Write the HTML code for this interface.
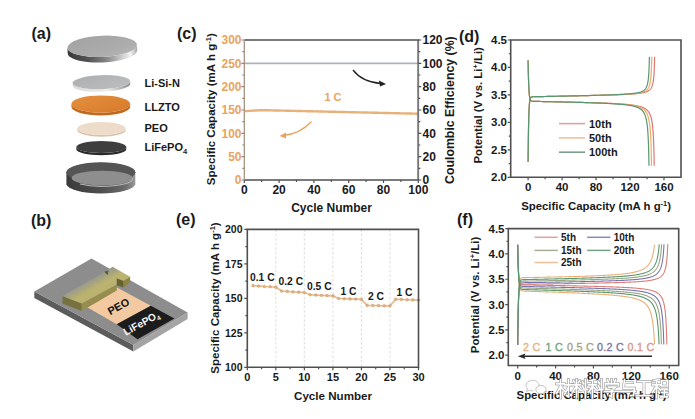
<!DOCTYPE html>
<html><head><meta charset="utf-8"><style>
html,body{margin:0;padding:0;background:#fff;width:695px;height:419px;overflow:hidden}
svg{display:block}
text{font-family:"Liberation Sans",sans-serif}
</style></head><body>
<svg width="695" height="419" viewBox="0 0 695 419">
<defs><linearGradient id="gCapSide" x1="0" x2="1" y1="0" y2="0"><stop offset="0" stop-color="#383838"/><stop offset="0.3" stop-color="#555"/><stop offset="0.55" stop-color="#858585"/><stop offset="0.78" stop-color="#cfcfcf"/><stop offset="0.9" stop-color="#f2f2f2"/><stop offset="1" stop-color="#a8a8a8"/></linearGradient><linearGradient id="gCapTop" x1="0" x2="1" y1="0" y2="1"><stop offset="0" stop-color="#a2a2a2"/><stop offset="0.6" stop-color="#ababab"/><stop offset="1" stop-color="#b6b6b6"/></linearGradient><linearGradient id="gLSN" x1="0" x2="1" y1="0" y2="1"><stop offset="0" stop-color="#acaeb0"/><stop offset="1" stop-color="#bcbec0"/></linearGradient><linearGradient id="gLSNside" x1="0" x2="1" y1="0" y2="0"><stop offset="0" stop-color="#d8d8d8"/><stop offset="0.6" stop-color="#eeeeee"/><stop offset="1" stop-color="#8a8a8a"/></linearGradient><linearGradient id="gLLZ" x1="0" x2="1" y1="0" y2="1"><stop offset="0" stop-color="#e5903f"/><stop offset="1" stop-color="#d67a2a"/></linearGradient><linearGradient id="gBotSide" x1="0" x2="1" y1="0" y2="0"><stop offset="0" stop-color="#3a3a3a"/><stop offset="0.5" stop-color="#4e4e4e"/><stop offset="0.85" stop-color="#6a6a6a"/><stop offset="1" stop-color="#9a9a9a"/></linearGradient><linearGradient id="gBarTop" gradientUnits="userSpaceOnUse" x1="84" y1="283.6" x2="88.5" y2="291.6"><stop offset="0" stop-color="#9a9a8c"/><stop offset="0.5" stop-color="#a8a57e"/><stop offset="1" stop-color="#bab26e"/></linearGradient></defs>
<rect width="695" height="419" fill="#fff"/>
<text x="31.5" y="39.2" font-size="16" font-weight="bold" text-anchor="start" fill="#1a1a1a" >(a)</text>
<text x="177" y="38.9" font-size="16" font-weight="bold" text-anchor="start" fill="#1a1a1a" >(c)</text>
<text x="459" y="41.5" font-size="16" font-weight="bold" text-anchor="start" fill="#1a1a1a" >(d)</text>
<text x="31" y="225.5" font-size="16" font-weight="bold" text-anchor="start" fill="#1a1a1a" >(b)</text>
<text x="176" y="224.5" font-size="16" font-weight="bold" text-anchor="start" fill="#1a1a1a" >(e)</text>
<text x="457" y="225" font-size="16" font-weight="bold" text-anchor="start" fill="#1a1a1a" >(f)</text>
<path d="M244.3,63.33 H418.3" stroke="#abb2b9" stroke-width="1.7" fill="none"/>
<path d="M244.3,111.26 L246.04,111.13 L247.78,110.99 L249.52,110.87 L251.26,110.75 L253,110.64 L254.74,110.53 L256.48,110.45 L258.22,110.37 L259.96,110.31 L261.7,110.27 L263.44,110.24 L265.18,110.23 L266.92,110.27 L268.66,110.31 L270.4,110.35 L272.14,110.39 L273.88,110.43 L275.62,110.47 L277.36,110.51 L279.1,110.55 L280.84,110.59 L282.58,110.63 L284.32,110.67 L286.06,110.71 L287.8,110.75 L289.54,110.79 L291.28,110.83 L293.02,110.87 L294.76,110.91 L296.5,110.95 L298.24,110.99 L299.98,111.03 L301.72,111.07 L303.46,111.11 L305.2,111.15 L306.94,111.19 L308.68,111.22 L310.42,111.26 L312.16,111.3 L313.9,111.34 L315.64,111.38 L317.38,111.42 L319.12,111.46 L320.86,111.5 L322.6,111.54 L324.34,111.58 L326.08,111.62 L327.82,111.66 L329.56,111.7 L331.3,111.74 L333.04,111.78 L334.78,111.82 L336.52,111.86 L338.26,111.9 L340,111.94 L341.74,111.98 L343.48,112.02 L345.22,112.06 L346.96,112.1 L348.7,112.14 L350.44,112.18 L352.18,112.22 L353.92,112.26 L355.66,112.3 L357.4,112.34 L359.14,112.38 L360.88,112.42 L362.62,112.45 L364.36,112.49 L366.1,112.53 L367.84,112.57 L369.58,112.61 L371.32,112.65 L373.06,112.69 L374.8,112.73 L376.54,112.77 L378.28,112.81 L380.02,112.85 L381.76,112.89 L383.5,112.93 L385.24,112.97 L386.98,113.01 L388.72,113.05 L390.46,113.09 L392.2,113.13 L393.94,113.17 L395.68,113.21 L397.42,113.25 L399.16,113.29 L400.9,113.33 L402.64,113.37 L404.38,113.41 L406.12,113.45 L407.86,113.49 L409.6,113.53 L411.34,113.57 L413.08,113.61 L414.82,113.64 L416.56,113.68 L418.3,113.72" stroke="#e8b07a" stroke-width="2.4" fill="none"/>
<path d="M244.3,40 H418.3 V180 H244.3" stroke="#505050" stroke-width="1.6" fill="none"/>
<path d="M244.3,40 V180" stroke="#9c8c78" stroke-width="1.2" fill="none"/>
<path d="M418.3,40.8 V179.2" stroke="#7a7a7a" stroke-width="1.4" fill="none"/>
<path d="M244.3,180 v3 M261.7,180 v2 M279.1,180 v3 M296.5,180 v2 M313.9,180 v3 M331.3,180 v2 M348.7,180 v3 M366.1,180 v2 M383.5,180 v3 M400.9,180 v2 M418.3,180 v3 M418.3,180 h3 M418.3,168.33 h2 M418.3,156.67 h3 M418.3,145 h2 M418.3,133.33 h3 M418.3,121.67 h2 M418.3,110 h3 M418.3,98.33 h2 M418.3,86.67 h3 M418.3,75 h2 M418.3,63.33 h3 M418.3,51.67 h2 M418.3,40 h3" stroke="#505050" stroke-width="1.2" fill="none"/>
<path d="M244.3,180 h-3 M244.3,168.33 h-2 M244.3,156.67 h-3 M244.3,145 h-2 M244.3,133.33 h-3 M244.3,121.67 h-2 M244.3,110 h-3 M244.3,98.33 h-2 M244.3,86.67 h-3 M244.3,75 h-2 M244.3,63.33 h-3 M244.3,51.67 h-2 M244.3,40 h-3" stroke="#9a8870" stroke-width="1.2" fill="none"/>
<text x="241.5" y="184.3" font-size="12" font-weight="bold" text-anchor="end" fill="#e9a45e" >0</text>
<text x="241.5" y="160.97" font-size="12" font-weight="bold" text-anchor="end" fill="#e9a45e" >50</text>
<text x="241.5" y="137.63" font-size="12" font-weight="bold" text-anchor="end" fill="#e9a45e" >100</text>
<text x="241.5" y="114.3" font-size="12" font-weight="bold" text-anchor="end" fill="#e9a45e" >150</text>
<text x="241.5" y="90.97" font-size="12" font-weight="bold" text-anchor="end" fill="#e9a45e" >200</text>
<text x="241.5" y="67.63" font-size="12" font-weight="bold" text-anchor="end" fill="#e9a45e" >250</text>
<text x="241.5" y="44.3" font-size="12" font-weight="bold" text-anchor="end" fill="#e9a45e" >300</text>
<text x="422.5" y="184.3" font-size="12" font-weight="bold" text-anchor="start" fill="#1a1a1a" >0</text>
<text x="422.5" y="160.97" font-size="12" font-weight="bold" text-anchor="start" fill="#1a1a1a" >20</text>
<text x="422.5" y="137.63" font-size="12" font-weight="bold" text-anchor="start" fill="#1a1a1a" >40</text>
<text x="422.5" y="114.3" font-size="12" font-weight="bold" text-anchor="start" fill="#1a1a1a" >60</text>
<text x="422.5" y="90.97" font-size="12" font-weight="bold" text-anchor="start" fill="#1a1a1a" >80</text>
<text x="422.5" y="67.63" font-size="12" font-weight="bold" text-anchor="start" fill="#1a1a1a" >100</text>
<text x="422.5" y="44.3" font-size="12" font-weight="bold" text-anchor="start" fill="#1a1a1a" >120</text>
<text x="244.3" y="194.3" font-size="12" font-weight="bold" text-anchor="middle" fill="#1a1a1a" >0</text>
<text x="279.1" y="194.3" font-size="12" font-weight="bold" text-anchor="middle" fill="#1a1a1a" >20</text>
<text x="313.9" y="194.3" font-size="12" font-weight="bold" text-anchor="middle" fill="#1a1a1a" >40</text>
<text x="348.7" y="194.3" font-size="12" font-weight="bold" text-anchor="middle" fill="#1a1a1a" >60</text>
<text x="383.5" y="194.3" font-size="12" font-weight="bold" text-anchor="middle" fill="#1a1a1a" >80</text>
<text x="418.3" y="194.3" font-size="12" font-weight="bold" text-anchor="middle" fill="#1a1a1a" >100</text>
<text x="331.5" y="212" font-size="12" font-weight="bold" text-anchor="middle" fill="#1a1a1a" >Cycle Number</text>
<text transform="translate(215,109.2) rotate(-90)" font-size="11.55" font-weight="bold" text-anchor="middle" fill="#1a1a1a">Specific Capacity (mA h g<tspan dy="-4" font-size="7.5">-1</tspan><tspan dy="4">)</tspan></text>
<text transform="translate(453.5,110.1) rotate(-90)" font-size="12.3" font-weight="bold" text-anchor="middle" fill="#1a1a1a">Coulombic Efficiency (%)</text>
<text x="333" y="101.3" font-size="11" font-weight="bold" text-anchor="middle" fill="#e9a45e" >1 C</text>
<path d="M353,70 Q362,82 381,83.5" stroke="#222" stroke-width="1.3" fill="none"/>
<path d="M386,84 L379,80.5 L380,86.5 Z" fill="#222"/>
<path d="M311.5,121.5 Q300,134 283,135.5" stroke="#e9a45e" stroke-width="1.3" fill="none"/>
<path d="M279.5,136 L286,132.5 L286,138.5 Z" fill="#e9a45e"/>
<path d="M528.1,161.92 L528.1,161.42 L528.12,159.93 L528.14,157.53 L528.17,154.31 L528.22,150.43 L528.27,146.05 L528.33,141.32 L528.4,136.43 L528.47,131.54 L528.56,126.79 L528.66,122.29 L528.76,118.13 L528.88,114.38 L529,111.07 L529.14,108.21 L529.28,105.78 L529.43,103.76 L529.59,102.12 L529.76,100.8 L529.94,99.76 L530.13,98.96 L530.32,98.35 L530.53,97.89 L530.74,97.56 L530.97,97.31 L531.2,97.14 L531.44,97.02 L531.69,96.93 L531.95,96.87 L532.21,96.83 L532.49,96.8 L532.77,96.78 L533.06,96.76 L533.37,96.75 L533.67,96.74 L533.99,96.73 L534.32,96.72 L534.65,96.72 L535,96.71 L535.35,96.7 L535.71,96.7 L536.08,96.69 L536.45,96.68 L536.83,96.67 L537.23,96.67 L537.63,96.66 L538.03,96.65 L538.45,96.64 L538.87,96.63 L539.3,96.63 L539.74,96.62 L540.19,96.61 L540.64,96.6 L541.1,96.59 L541.57,96.58 L542.04,96.57 L542.52,96.56 L543.01,96.55 L543.51,96.54 L544.01,96.53 L544.52,96.52 L545.04,96.51 L545.57,96.5 L546.1,96.49 L546.63,96.48 L547.18,96.47 L547.73,96.46 L548.28,96.45 L548.85,96.44 L549.42,96.43 L549.99,96.41 L550.57,96.4 L551.16,96.39 L551.75,96.38 L552.35,96.37 L552.96,96.36 L553.57,96.34 L554.18,96.33 L554.81,96.32 L555.43,96.31 L556.06,96.29 L556.7,96.28 L557.34,96.27 L557.99,96.25 L558.64,96.24 L559.3,96.23 L559.96,96.21 L560.63,96.2 L561.3,96.19 L561.97,96.17 L562.65,96.16 L563.33,96.14 L564.02,96.13 L564.71,96.11 L565.41,96.1 L566.11,96.08 L566.81,96.07 L567.52,96.06 L568.23,96.04 L568.94,96.03 L569.66,96.01 L570.38,95.99 L571.1,95.98 L571.82,95.96 L572.55,95.95 L573.28,95.93 L574.02,95.92 L574.75,95.9 L575.49,95.88 L576.23,95.87 L576.98,95.85 L577.72,95.83 L578.47,95.82 L579.22,95.8 L579.97,95.78 L580.73,95.77 L581.48,95.75 L582.24,95.73 L582.99,95.72 L583.75,95.7 L584.51,95.68 L585.27,95.66 L586.03,95.65 L586.79,95.63 L587.56,95.61 L588.32,95.59 L589.09,95.57 L589.85,95.55 L590.61,95.54 L591.38,95.52 L592.14,95.5 L592.91,95.48 L593.67,95.46 L594.44,95.44 L595.2,95.42 L595.96,95.4 L596.72,95.38 L597.49,95.36 L598.25,95.34 L599.01,95.32 L599.76,95.3 L600.52,95.28 L601.28,95.26 L602.03,95.24 L602.78,95.22 L603.54,95.2 L604.29,95.18 L605.03,95.16 L605.78,95.14 L606.52,95.11 L607.26,95.09 L608,95.07 L608.74,95.05 L609.47,95.02 L610.2,95 L610.93,94.98 L611.66,94.95 L612.38,94.93 L613.1,94.91 L613.82,94.88 L614.53,94.86 L615.24,94.83 L615.95,94.81 L616.65,94.78 L617.35,94.76 L618.04,94.73 L618.74,94.7 L619.42,94.68 L620.11,94.65 L620.79,94.62 L621.46,94.59 L622.13,94.56 L622.8,94.53 L623.46,94.5 L624.11,94.47 L624.77,94.44 L625.41,94.41 L626.06,94.38 L626.69,94.34 L627.32,94.31 L627.95,94.28 L628.57,94.24 L629.19,94.2 L629.8,94.17 L630.4,94.13 L631,94.09 L631.6,94.05 L632.18,94.01 L632.76,93.97 L633.34,93.92 L633.91,93.88 L634.47,93.83 L635.03,93.78 L635.58,93.74 L636.12,93.68 L636.66,93.63 L637.19,93.58 L637.72,93.52 L638.23,93.46 L638.74,93.4 L639.25,93.34 L639.74,93.27 L640.23,93.2 L640.72,93.13 L641.19,93.06 L641.66,92.98 L642.12,92.9 L642.57,92.81 L643.02,92.72 L643.46,92.63 L643.89,92.53 L644.31,92.43 L644.72,92.32 L645.13,92.2 L645.53,92.08 L645.92,91.95 L646.31,91.82 L646.68,91.67 L647.05,91.52 L647.41,91.36 L647.76,91.19 L648.1,91 L648.44,90.8 L648.76,90.59 L649.08,90.37 L649.39,90.13 L649.69,89.87 L649.99,89.59 L650.27,89.29 L650.54,88.96 L650.81,88.61 L651.07,88.23 L651.32,87.82 L651.56,87.37 L651.79,86.89 L652.01,86.36 L652.23,85.78 L652.43,85.14 L652.63,84.45 L652.82,83.7 L653,82.87 L653.17,81.96 L653.33,80.97 L653.48,79.88 L653.62,78.69 L653.75,77.39 L653.88,75.98 L653.99,74.46 L654.1,72.82 L654.2,71.08 L654.28,69.25 L654.36,67.35 L654.43,65.42 L654.49,63.53 L654.54,61.72 L654.58,60.07 L654.62,58.67 L654.64,57.61 L654.65,56.93 L654.66,56.71" stroke="#dc7a72" stroke-width="1.2" fill="none"/>
<path d="M528.1,60.32 L528.1,60.6 L528.12,61.41 L528.14,62.74 L528.17,64.52 L528.22,66.7 L528.27,69.18 L528.33,71.88 L528.39,74.71 L528.47,77.6 L528.56,80.45 L528.66,83.2 L528.76,85.8 L528.88,88.2 L529,90.38 L529.13,92.31 L529.27,94 L529.43,95.45 L529.59,96.67 L529.75,97.68 L529.93,98.51 L530.12,99.18 L530.32,99.71 L530.52,100.12 L530.73,100.44 L530.96,100.68 L531.19,100.86 L531.43,100.99 L531.68,101.09 L531.93,101.16 L532.2,101.22 L532.47,101.25 L532.76,101.28 L533.05,101.3 L533.35,101.32 L533.66,101.33 L533.97,101.34 L534.3,101.35 L534.63,101.36 L534.97,101.37 L535.32,101.37 L535.68,101.38 L536.05,101.39 L536.42,101.4 L536.81,101.4 L537.2,101.41 L537.59,101.42 L538,101.43 L538.41,101.44 L538.83,101.44 L539.26,101.45 L539.7,101.46 L540.14,101.47 L540.6,101.48 L541.06,101.49 L541.52,101.5 L542,101.51 L542.48,101.52 L542.96,101.53 L543.46,101.54 L543.96,101.55 L544.47,101.56 L544.98,101.57 L545.51,101.58 L546.04,101.59 L546.57,101.6 L547.11,101.61 L547.66,101.62 L548.22,101.63 L548.78,101.65 L549.35,101.66 L549.92,101.67 L550.5,101.68 L551.08,101.69 L551.68,101.71 L552.27,101.72 L552.87,101.73 L553.48,101.74 L554.1,101.76 L554.72,101.77 L555.34,101.78 L555.97,101.8 L556.61,101.81 L557.25,101.82 L557.89,101.84 L558.54,101.85 L559.19,101.87 L559.85,101.88 L560.52,101.9 L561.19,101.91 L561.86,101.93 L562.53,101.94 L563.22,101.96 L563.9,101.97 L564.59,101.99 L565.28,102 L565.98,102.02 L566.68,102.04 L567.38,102.05 L568.09,102.07 L568.8,102.08 L569.52,102.1 L570.23,102.12 L570.95,102.14 L571.68,102.15 L572.4,102.17 L573.13,102.19 L573.86,102.21 L574.6,102.22 L575.33,102.24 L576.07,102.26 L576.81,102.28 L577.56,102.3 L578.3,102.32 L579.05,102.34 L579.8,102.36 L580.55,102.38 L581.3,102.4 L582.05,102.42 L582.81,102.44 L583.56,102.46 L584.32,102.48 L585.08,102.5 L585.84,102.52 L586.6,102.54 L587.36,102.56 L588.12,102.58 L588.88,102.61 L589.64,102.63 L590.4,102.65 L591.17,102.67 L591.93,102.7 L592.69,102.72 L593.45,102.75 L594.21,102.77 L594.97,102.79 L595.73,102.82 L596.49,102.84 L597.25,102.87 L598.01,102.89 L598.77,102.92 L599.52,102.95 L600.28,102.97 L601.03,103 L601.78,103.03 L602.53,103.06 L603.28,103.08 L604.03,103.11 L604.77,103.14 L605.52,103.17 L606.26,103.2 L607,103.23 L607.73,103.26 L608.47,103.3 L609.2,103.33 L609.93,103.36 L610.65,103.39 L611.38,103.43 L612.1,103.46 L612.82,103.5 L613.53,103.53 L614.24,103.57 L614.95,103.61 L615.65,103.64 L616.35,103.68 L617.05,103.72 L617.74,103.76 L618.43,103.8 L619.12,103.85 L619.8,103.89 L620.47,103.93 L621.15,103.98 L621.82,104.03 L622.48,104.07 L623.14,104.12 L623.79,104.17 L624.44,104.22 L625.09,104.28 L625.73,104.33 L626.36,104.39 L626.99,104.44 L627.62,104.5 L628.24,104.56 L628.85,104.63 L629.46,104.69 L630.06,104.76 L630.66,104.83 L631.25,104.9 L631.83,104.97 L632.41,105.05 L632.99,105.12 L633.55,105.21 L634.12,105.29 L634.67,105.38 L635.22,105.47 L635.76,105.56 L636.3,105.66 L636.83,105.76 L637.35,105.87 L637.86,105.98 L638.37,106.09 L638.87,106.22 L639.37,106.34 L639.86,106.47 L640.34,106.61 L640.81,106.75 L641.28,106.9 L641.74,107.06 L642.19,107.23 L642.63,107.4 L643.07,107.58 L643.5,107.78 L643.92,107.98 L644.33,108.19 L644.74,108.42 L645.14,108.66 L645.53,108.91 L645.91,109.18 L646.28,109.46 L646.65,109.77 L647.01,110.09 L647.36,110.43 L647.7,110.79 L648.03,111.18 L648.36,111.59 L648.68,112.03 L648.98,112.5 L649.28,113.01 L649.58,113.55 L649.86,114.14 L650.13,114.77 L650.4,115.44 L650.66,116.17 L650.91,116.96 L651.15,117.81 L651.38,118.73 L651.6,119.72 L651.81,120.8 L652.02,121.97 L652.21,123.23 L652.4,124.6 L652.58,126.09 L652.75,127.7 L652.91,129.44 L653.06,131.33 L653.2,133.35 L653.33,135.53 L653.46,137.85 L653.57,140.31 L653.68,142.91 L653.77,145.61 L653.86,148.39 L653.94,151.2 L654.01,153.98 L654.07,156.67 L654.12,159.17 L654.16,161.4 L654.19,163.26 L654.21,164.66 L654.23,165.53 L654.23,165.83" stroke="#dc7a72" stroke-width="1.2" fill="none"/>
<path d="M528.1,161.92 L528.1,161.43 L528.12,159.98 L528.14,157.62 L528.17,154.48 L528.21,150.67 L528.26,146.36 L528.32,141.71 L528.39,136.89 L528.47,132.04 L528.55,127.32 L528.65,122.84 L528.75,118.68 L528.86,114.91 L528.98,111.57 L529.11,108.67 L529.25,106.2 L529.4,104.13 L529.56,102.43 L529.72,101.06 L529.9,99.98 L530.08,99.13 L530.27,98.49 L530.47,98 L530.68,97.64 L530.9,97.37 L531.13,97.18 L531.36,97.05 L531.61,96.95 L531.86,96.89 L532.12,96.84 L532.39,96.81 L532.66,96.78 L532.95,96.77 L533.25,96.75 L533.55,96.74 L533.86,96.73 L534.18,96.72 L534.5,96.72 L534.84,96.71 L535.18,96.7 L535.53,96.7 L535.89,96.69 L536.26,96.68 L536.64,96.67 L537.02,96.67 L537.41,96.66 L537.81,96.65 L538.21,96.64 L538.63,96.63 L539.05,96.63 L539.47,96.62 L539.91,96.61 L540.35,96.6 L540.8,96.59 L541.26,96.58 L541.72,96.57 L542.2,96.56 L542.67,96.55 L543.16,96.54 L543.65,96.53 L544.15,96.52 L544.66,96.51 L545.17,96.5 L545.69,96.49 L546.21,96.48 L546.74,96.47 L547.28,96.46 L547.82,96.45 L548.37,96.44 L548.93,96.43 L549.49,96.41 L550.06,96.4 L550.63,96.39 L551.21,96.38 L551.8,96.37 L552.39,96.35 L552.99,96.34 L553.59,96.33 L554.2,96.32 L554.81,96.3 L555.43,96.29 L556.05,96.28 L556.68,96.26 L557.31,96.25 L557.95,96.24 L558.59,96.22 L559.23,96.21 L559.88,96.2 L560.54,96.18 L561.2,96.17 L561.86,96.16 L562.53,96.14 L563.2,96.13 L563.88,96.11 L564.56,96.1 L565.24,96.08 L565.93,96.07 L566.62,96.05 L567.31,96.04 L568.01,96.02 L568.71,96.01 L569.41,95.99 L570.12,95.98 L570.83,95.96 L571.54,95.94 L572.25,95.93 L572.97,95.91 L573.69,95.9 L574.41,95.88 L575.14,95.86 L575.86,95.85 L576.59,95.83 L577.32,95.81 L578.05,95.8 L578.79,95.78 L579.52,95.76 L580.26,95.75 L581,95.73 L581.74,95.71 L582.48,95.69 L583.22,95.68 L583.97,95.66 L584.71,95.64 L585.46,95.62 L586.2,95.6 L586.95,95.59 L587.69,95.57 L588.44,95.55 L589.19,95.53 L589.93,95.51 L590.68,95.49 L591.43,95.47 L592.18,95.46 L592.92,95.44 L593.67,95.42 L594.41,95.4 L595.16,95.38 L595.9,95.36 L596.65,95.34 L597.39,95.32 L598.13,95.3 L598.87,95.28 L599.61,95.26 L600.34,95.23 L601.08,95.21 L601.81,95.19 L602.55,95.17 L603.28,95.15 L604.01,95.13 L604.73,95.11 L605.46,95.08 L606.18,95.06 L606.9,95.04 L607.62,95.01 L608.33,94.99 L609.04,94.97 L609.75,94.94 L610.46,94.92 L611.16,94.9 L611.86,94.87 L612.56,94.85 L613.25,94.82 L613.94,94.8 L614.63,94.77 L615.31,94.74 L615.99,94.72 L616.67,94.69 L617.34,94.66 L618.01,94.63 L618.67,94.61 L619.33,94.58 L619.99,94.55 L620.64,94.52 L621.28,94.49 L621.92,94.46 L622.56,94.43 L623.19,94.39 L623.82,94.36 L624.44,94.33 L625.06,94.29 L625.67,94.26 L626.28,94.22 L626.88,94.18 L627.48,94.15 L628.07,94.11 L628.65,94.07 L629.23,94.03 L629.81,93.99 L630.38,93.94 L630.94,93.9 L631.49,93.85 L632.04,93.81 L632.59,93.76 L633.13,93.71 L633.66,93.66 L634.18,93.6 L634.7,93.55 L635.21,93.49 L635.72,93.43 L636.22,93.37 L636.71,93.3 L637.2,93.24 L637.67,93.17 L638.15,93.09 L638.61,93.02 L639.07,92.94 L639.52,92.86 L639.96,92.77 L640.4,92.68 L640.82,92.58 L641.24,92.48 L641.66,92.38 L642.06,92.27 L642.46,92.15 L642.85,92.02 L643.23,91.89 L643.61,91.76 L643.98,91.61 L644.34,91.45 L644.69,91.29 L645.03,91.11 L645.36,90.92 L645.69,90.72 L646.01,90.51 L646.32,90.28 L646.62,90.03 L646.92,89.77 L647.2,89.49 L647.48,89.18 L647.75,88.85 L648.01,88.49 L648.26,88.11 L648.51,87.69 L648.74,87.24 L648.97,86.74 L649.19,86.21 L649.4,85.62 L649.6,84.98 L649.79,84.28 L649.97,83.52 L650.15,82.68 L650.31,81.77 L650.47,80.77 L650.62,79.67 L650.76,78.48 L650.89,77.18 L651.01,75.77 L651.12,74.25 L651.22,72.61 L651.32,70.88 L651.4,69.06 L651.48,67.18 L651.55,65.28 L651.61,63.4 L651.66,61.62 L651.7,60.01 L651.73,58.64 L651.75,57.59 L651.76,56.93 L651.77,56.71" stroke="#ebac6c" stroke-width="1.2" fill="none"/>
<path d="M528.1,60.32 L528.1,60.59 L528.12,61.39 L528.14,62.69 L528.17,64.44 L528.21,66.57 L528.26,69.01 L528.32,71.67 L528.39,74.46 L528.46,77.31 L528.55,80.14 L528.64,82.88 L528.75,85.47 L528.86,87.87 L528.98,90.06 L529.11,92.01 L529.25,93.72 L529.4,95.2 L529.55,96.45 L529.72,97.49 L529.89,98.35 L530.08,99.04 L530.27,99.59 L530.47,100.03 L530.68,100.36 L530.89,100.62 L531.12,100.81 L531.35,100.96 L531.6,101.07 L531.85,101.15 L532.11,101.2 L532.38,101.24 L532.66,101.28 L532.94,101.3 L533.23,101.32 L533.54,101.33 L533.85,101.34 L534.16,101.35 L534.49,101.36 L534.83,101.37 L535.17,101.37 L535.52,101.38 L535.88,101.39 L536.24,101.4 L536.62,101.4 L537,101.41 L537.39,101.42 L537.79,101.43 L538.19,101.44 L538.6,101.45 L539.02,101.45 L539.45,101.46 L539.89,101.47 L540.33,101.48 L540.78,101.49 L541.23,101.5 L541.7,101.51 L542.17,101.52 L542.64,101.53 L543.13,101.54 L543.62,101.55 L544.12,101.56 L544.62,101.57 L545.13,101.58 L545.65,101.59 L546.17,101.6 L546.7,101.61 L547.24,101.62 L547.78,101.64 L548.33,101.65 L548.89,101.66 L549.45,101.67 L550.02,101.68 L550.59,101.7 L551.17,101.71 L551.75,101.72 L552.34,101.73 L552.94,101.75 L553.54,101.76 L554.14,101.77 L554.75,101.79 L555.37,101.8 L555.99,101.81 L556.62,101.83 L557.25,101.84 L557.88,101.86 L558.52,101.87 L559.17,101.88 L559.82,101.9 L560.47,101.91 L561.13,101.93 L561.79,101.94 L562.46,101.96 L563.13,101.98 L563.8,101.99 L564.48,102.01 L565.16,102.02 L565.85,102.04 L566.54,102.06 L567.23,102.07 L567.93,102.09 L568.62,102.11 L569.33,102.12 L570.03,102.14 L570.74,102.16 L571.45,102.18 L572.16,102.19 L572.88,102.21 L573.6,102.23 L574.32,102.25 L575.04,102.27 L575.76,102.29 L576.49,102.31 L577.22,102.32 L577.95,102.34 L578.68,102.36 L579.42,102.38 L580.15,102.4 L580.89,102.42 L581.63,102.44 L582.37,102.46 L583.11,102.49 L583.85,102.51 L584.59,102.53 L585.34,102.55 L586.08,102.57 L586.83,102.59 L587.57,102.62 L588.32,102.64 L589.06,102.66 L589.81,102.69 L590.55,102.71 L591.3,102.73 L592.04,102.76 L592.79,102.78 L593.53,102.81 L594.28,102.83 L595.02,102.86 L595.76,102.88 L596.5,102.91 L597.25,102.93 L597.98,102.96 L598.72,102.99 L599.46,103.01 L600.2,103.04 L600.93,103.07 L601.66,103.1 L602.39,103.13 L603.12,103.16 L603.85,103.19 L604.57,103.22 L605.3,103.25 L606.02,103.28 L606.74,103.31 L607.45,103.35 L608.17,103.38 L608.88,103.41 L609.58,103.45 L610.29,103.48 L610.99,103.52 L611.69,103.55 L612.38,103.59 L613.08,103.63 L613.77,103.67 L614.45,103.71 L615.13,103.75 L615.81,103.79 L616.48,103.83 L617.16,103.87 L617.82,103.92 L618.48,103.96 L619.14,104.01 L619.8,104.05 L620.45,104.1 L621.09,104.15 L621.73,104.2 L622.37,104.26 L623,104.31 L623.62,104.36 L624.24,104.42 L624.86,104.48 L625.47,104.54 L626.08,104.6 L626.68,104.67 L627.27,104.73 L627.86,104.8 L628.45,104.87 L629.03,104.94 L629.6,105.02 L630.17,105.09 L630.73,105.17 L631.28,105.26 L631.83,105.34 L632.37,105.43 L632.91,105.52 L633.44,105.62 L633.96,105.72 L634.48,105.82 L634.99,105.93 L635.5,106.04 L636,106.16 L636.49,106.28 L636.97,106.41 L637.45,106.54 L637.92,106.68 L638.38,106.83 L638.84,106.98 L639.29,107.14 L639.73,107.31 L640.16,107.49 L640.59,107.68 L641.01,107.87 L641.42,108.08 L641.83,108.3 L642.23,108.53 L642.61,108.77 L643,109.03 L643.37,109.3 L643.74,109.59 L644.1,109.89 L644.45,110.22 L644.79,110.57 L645.12,110.94 L645.45,111.33 L645.77,111.75 L646.08,112.2 L646.38,112.68 L646.67,113.19 L646.96,113.74 L647.24,114.33 L647.5,114.97 L647.76,115.66 L648.02,116.39 L648.26,117.19 L648.49,118.05 L648.72,118.98 L648.94,119.98 L649.15,121.07 L649.35,122.25 L649.54,123.52 L649.72,124.91 L649.9,126.4 L650.06,128.02 L650.22,129.77 L650.36,131.66 L650.5,133.69 L650.63,135.86 L650.75,138.18 L650.87,140.63 L650.97,143.21 L651.06,145.9 L651.15,148.65 L651.23,151.43 L651.29,154.18 L651.35,156.83 L651.4,159.29 L651.44,161.48 L651.47,163.3 L651.5,164.68 L651.51,165.53 L651.51,165.82" stroke="#ebac6c" stroke-width="1.2" fill="none"/>
<path d="M528.1,161.92 L528.1,161.44 L528.12,160.01 L528.14,157.7 L528.17,154.61 L528.21,150.87 L528.26,146.62 L528.32,142.03 L528.38,137.26 L528.46,132.46 L528.54,127.77 L528.63,123.3 L528.74,119.14 L528.85,115.37 L528.97,112 L529.09,109.06 L529.23,106.55 L529.37,104.44 L529.53,102.7 L529.69,101.29 L529.86,100.17 L530.04,99.29 L530.23,98.61 L530.43,98.09 L530.63,97.71 L530.85,97.43 L531.07,97.22 L531.3,97.08 L531.54,96.97 L531.79,96.9 L532.04,96.85 L532.3,96.81 L532.58,96.79 L532.86,96.77 L533.15,96.75 L533.44,96.74 L533.75,96.73 L534.06,96.72 L534.38,96.72 L534.71,96.71 L535.05,96.7 L535.39,96.7 L535.74,96.69 L536.1,96.68 L536.47,96.67 L536.85,96.67 L537.23,96.66 L537.62,96.65 L538.02,96.64 L538.42,96.63 L538.84,96.62 L539.26,96.62 L539.68,96.61 L540.12,96.6 L540.56,96.59 L541.01,96.58 L541.46,96.57 L541.92,96.56 L542.39,96.55 L542.87,96.54 L543.35,96.53 L543.84,96.52 L544.34,96.51 L544.84,96.5 L545.35,96.49 L545.86,96.48 L546.38,96.47 L546.91,96.46 L547.44,96.45 L547.98,96.44 L548.53,96.42 L549.08,96.41 L549.64,96.4 L550.2,96.39 L550.77,96.38 L551.34,96.36 L551.92,96.35 L552.51,96.34 L553.1,96.33 L553.69,96.32 L554.29,96.3 L554.9,96.29 L555.51,96.28 L556.13,96.26 L556.75,96.25 L557.37,96.24 L558,96.22 L558.63,96.21 L559.27,96.2 L559.92,96.18 L560.56,96.17 L561.21,96.15 L561.87,96.14 L562.53,96.12 L563.19,96.11 L563.86,96.1 L564.53,96.08 L565.2,96.07 L565.88,96.05 L566.56,96.04 L567.24,96.02 L567.93,96.01 L568.62,95.99 L569.31,95.97 L570,95.96 L570.7,95.94 L571.4,95.93 L572.11,95.91 L572.81,95.89 L573.52,95.88 L574.23,95.86 L574.94,95.84 L575.66,95.83 L576.38,95.81 L577.09,95.79 L577.81,95.78 L578.54,95.76 L579.26,95.74 L579.98,95.73 L580.71,95.71 L581.44,95.69 L582.16,95.67 L582.89,95.66 L583.62,95.64 L584.35,95.62 L585.08,95.6 L585.82,95.58 L586.55,95.56 L587.28,95.55 L588.01,95.53 L588.75,95.51 L589.48,95.49 L590.21,95.47 L590.94,95.45 L591.68,95.43 L592.41,95.41 L593.14,95.39 L593.87,95.37 L594.6,95.35 L595.33,95.33 L596.06,95.31 L596.78,95.29 L597.51,95.27 L598.23,95.25 L598.96,95.23 L599.68,95.21 L600.4,95.19 L601.12,95.16 L601.83,95.14 L602.55,95.12 L603.26,95.1 L603.97,95.08 L604.68,95.05 L605.38,95.03 L606.09,95.01 L606.79,94.98 L607.49,94.96 L608.18,94.94 L608.87,94.91 L609.56,94.89 L610.25,94.86 L610.93,94.84 L611.61,94.81 L612.29,94.79 L612.96,94.76 L613.64,94.73 L614.3,94.71 L614.96,94.68 L615.62,94.65 L616.28,94.62 L616.93,94.59 L617.58,94.57 L618.22,94.54 L618.86,94.51 L619.49,94.47 L620.12,94.44 L620.74,94.41 L621.36,94.38 L621.98,94.35 L622.59,94.31 L623.2,94.28 L623.8,94.24 L624.39,94.2 L624.98,94.17 L625.57,94.13 L626.15,94.09 L626.72,94.05 L627.29,94.01 L627.85,93.97 L628.41,93.92 L628.96,93.88 L629.51,93.83 L630.05,93.78 L630.58,93.73 L631.11,93.68 L631.63,93.63 L632.14,93.58 L632.65,93.52 L633.15,93.46 L633.65,93.4 L634.14,93.34 L634.62,93.27 L635.1,93.21 L635.57,93.13 L636.03,93.06 L636.48,92.98 L636.93,92.9 L637.37,92.82 L637.81,92.73 L638.24,92.64 L638.66,92.54 L639.07,92.44 L639.47,92.33 L639.87,92.22 L640.26,92.1 L640.64,91.97 L641.02,91.84 L641.39,91.7 L641.75,91.55 L642.1,91.39 L642.44,91.23 L642.78,91.05 L643.11,90.86 L643.43,90.65 L643.74,90.44 L644.05,90.2 L644.34,89.95 L644.63,89.69 L644.91,89.4 L645.19,89.09 L645.45,88.75 L645.71,88.39 L645.95,88 L646.19,87.58 L646.42,87.12 L646.64,86.62 L646.86,86.08 L647.06,85.49 L647.26,84.84 L647.45,84.14 L647.63,83.37 L647.8,82.53 L647.96,81.61 L648.12,80.6 L648.26,79.5 L648.4,78.3 L648.53,77 L648.64,75.59 L648.75,74.07 L648.86,72.44 L648.95,70.71 L649.03,68.9 L649.11,67.04 L649.17,65.15 L649.23,63.3 L649.28,61.54 L649.32,59.95 L649.35,58.61 L649.37,57.58 L649.39,56.93 L649.39,56.72" stroke="#5a9670" stroke-width="1.2" fill="none"/>
<path d="M528.1,60.32 L528.1,60.59 L528.12,61.37 L528.14,62.64 L528.17,64.36 L528.21,66.45 L528.26,68.85 L528.32,71.47 L528.38,74.23 L528.46,77.05 L528.54,79.85 L528.63,82.57 L528.73,85.16 L528.84,87.56 L528.96,89.76 L529.09,91.72 L529.23,93.45 L529.37,94.95 L529.52,96.23 L529.69,97.3 L529.86,98.18 L530.04,98.9 L530.22,99.48 L530.42,99.93 L530.62,100.29 L530.84,100.56 L531.06,100.77 L531.29,100.92 L531.53,101.04 L531.77,101.13 L532.03,101.19 L532.29,101.23 L532.56,101.27 L532.84,101.29 L533.13,101.31 L533.42,101.33 L533.73,101.34 L534.04,101.35 L534.36,101.36 L534.69,101.37 L535.02,101.37 L535.37,101.38 L535.72,101.39 L536.08,101.4 L536.44,101.41 L536.82,101.41 L537.2,101.42 L537.59,101.43 L537.98,101.44 L538.39,101.45 L538.8,101.45 L539.22,101.46 L539.64,101.47 L540.07,101.48 L540.51,101.49 L540.96,101.5 L541.41,101.51 L541.88,101.52 L542.34,101.53 L542.82,101.54 L543.3,101.55 L543.79,101.56 L544.28,101.57 L544.78,101.58 L545.29,101.59 L545.8,101.6 L546.32,101.61 L546.85,101.63 L547.38,101.64 L547.91,101.65 L548.46,101.66 L549.01,101.67 L549.56,101.69 L550.12,101.7 L550.69,101.71 L551.26,101.72 L551.84,101.74 L552.42,101.75 L553.01,101.76 L553.6,101.78 L554.2,101.79 L554.81,101.8 L555.41,101.82 L556.03,101.83 L556.65,101.84 L557.27,101.86 L557.9,101.87 L558.53,101.89 L559.16,101.9 L559.8,101.92 L560.45,101.93 L561.1,101.95 L561.75,101.96 L562.41,101.98 L563.07,102 L563.73,102.01 L564.4,102.03 L565.07,102.04 L565.74,102.06 L566.42,102.08 L567.1,102.09 L567.79,102.11 L568.47,102.13 L569.17,102.15 L569.86,102.16 L570.55,102.18 L571.25,102.2 L571.95,102.22 L572.66,102.24 L573.36,102.25 L574.07,102.27 L574.78,102.29 L575.49,102.31 L576.21,102.33 L576.92,102.35 L577.64,102.37 L578.36,102.39 L579.08,102.41 L579.8,102.43 L580.52,102.45 L581.25,102.47 L581.97,102.49 L582.7,102.52 L583.43,102.54 L584.16,102.56 L584.88,102.58 L585.61,102.6 L586.34,102.63 L587.07,102.65 L587.8,102.67 L588.53,102.7 L589.26,102.72 L589.99,102.74 L590.72,102.77 L591.45,102.79 L592.18,102.82 L592.91,102.84 L593.64,102.87 L594.37,102.89 L595.09,102.92 L595.82,102.95 L596.54,102.97 L597.26,103 L597.99,103.03 L598.71,103.06 L599.43,103.09 L600.14,103.11 L600.86,103.14 L601.57,103.17 L602.29,103.2 L603,103.23 L603.7,103.27 L604.41,103.3 L605.11,103.33 L605.81,103.36 L606.51,103.4 L607.21,103.43 L607.9,103.47 L608.59,103.5 L609.28,103.54 L609.96,103.57 L610.64,103.61 L611.32,103.65 L612,103.69 L612.67,103.73 L613.34,103.77 L614,103.81 L614.66,103.85 L615.32,103.9 L615.97,103.94 L616.62,103.99 L617.26,104.04 L617.9,104.08 L618.54,104.13 L619.17,104.18 L619.8,104.23 L620.42,104.29 L621.04,104.34 L621.65,104.4 L622.26,104.46 L622.86,104.51 L623.46,104.58 L624.05,104.64 L624.64,104.7 L625.23,104.77 L625.8,104.84 L626.38,104.91 L626.94,104.98 L627.5,105.06 L628.06,105.14 L628.61,105.22 L629.15,105.3 L629.69,105.39 L630.22,105.48 L630.75,105.58 L631.27,105.67 L631.78,105.77 L632.29,105.88 L632.79,105.99 L633.28,106.1 L633.77,106.22 L634.25,106.35 L634.72,106.48 L635.19,106.61 L635.65,106.76 L636.1,106.91 L636.55,107.06 L636.99,107.22 L637.42,107.4 L637.85,107.58 L638.27,107.77 L638.68,107.97 L639.08,108.18 L639.48,108.4 L639.87,108.63 L640.25,108.88 L640.62,109.14 L640.99,109.42 L641.35,109.71 L641.7,110.02 L642.04,110.35 L642.38,110.7 L642.71,111.08 L643.03,111.48 L643.34,111.9 L643.64,112.36 L643.94,112.84 L644.23,113.37 L644.5,113.92 L644.78,114.52 L645.04,115.17 L645.29,115.86 L645.54,116.61 L645.78,117.41 L646.01,118.28 L646.23,119.22 L646.44,120.24 L646.65,121.33 L646.84,122.52 L647.03,123.81 L647.21,125.2 L647.38,126.7 L647.54,128.33 L647.7,130.08 L647.84,131.97 L647.98,134 L648.1,136.18 L648.22,138.49 L648.33,140.94 L648.43,143.5 L648.53,146.17 L648.61,148.9 L648.68,151.65 L648.75,154.37 L648.81,156.98 L648.86,159.4 L648.9,161.55 L648.93,163.34 L648.95,164.69 L648.96,165.53 L648.97,165.81" stroke="#5a9670" stroke-width="1.2" fill="none"/>
<path d="M510.7,40 H681 V177.3 H510.7 Z" stroke="#505050" stroke-width="1.6" fill="none"/>
<path d="M528.1,177.3 v3 M545.09,177.3 v2 M562.08,177.3 v3 M579.06,177.3 v2 M596.05,177.3 v3 M613.04,177.3 v2 M630.02,177.3 v3 M647.01,177.3 v2 M664,177.3 v3 M510.7,177.3 h-3 M510.7,163.57 h-2 M510.7,149.84 h-3 M510.7,136.11 h-2 M510.7,122.38 h-3 M510.7,108.65 h-2 M510.7,94.92 h-3 M510.7,81.19 h-2 M510.7,67.46 h-3 M510.7,53.73 h-2 M510.7,40 h-3" stroke="#505050" stroke-width="1.2" fill="none"/>
<text x="507" y="181.3" font-size="11.5" font-weight="bold" text-anchor="end" fill="#1a1a1a" >2.0</text>
<text x="507" y="153.84" font-size="11.5" font-weight="bold" text-anchor="end" fill="#1a1a1a" >2.5</text>
<text x="507" y="126.38" font-size="11.5" font-weight="bold" text-anchor="end" fill="#1a1a1a" >3.0</text>
<text x="507" y="98.92" font-size="11.5" font-weight="bold" text-anchor="end" fill="#1a1a1a" >3.5</text>
<text x="507" y="71.46" font-size="11.5" font-weight="bold" text-anchor="end" fill="#1a1a1a" >4.0</text>
<text x="507" y="44" font-size="11.5" font-weight="bold" text-anchor="end" fill="#1a1a1a" >4.5</text>
<text x="528.1" y="191.3" font-size="11.5" font-weight="bold" text-anchor="middle" fill="#1a1a1a" >0</text>
<text x="562.08" y="191.3" font-size="11.5" font-weight="bold" text-anchor="middle" fill="#1a1a1a" >40</text>
<text x="596.05" y="191.3" font-size="11.5" font-weight="bold" text-anchor="middle" fill="#1a1a1a" >80</text>
<text x="630.02" y="191.3" font-size="11.5" font-weight="bold" text-anchor="middle" fill="#1a1a1a" >120</text>
<text x="664" y="191.3" font-size="11.5" font-weight="bold" text-anchor="middle" fill="#1a1a1a" >160</text>
<text x="596.1" y="209.7" font-size="11.4" font-weight="bold" text-anchor="middle" fill="#1a1a1a">Specific Capacity (mA h g<tspan dy="-4" font-size="7.5">-1</tspan><tspan dy="4">)</tspan></text>
<text transform="translate(481.5,105.3) rotate(-90)" font-size="11.4" font-weight="bold" text-anchor="middle" fill="#1a1a1a">Potential (V vs. Li<tspan dy="-4" font-size="7.5">+</tspan><tspan dy="4">/Li)</tspan></text>
<path d="M559,123.6 H585" stroke="#dca4a4" stroke-width="1.6" fill="none"/>
<text x="589" y="127.6" font-size="11" font-weight="bold" text-anchor="start" fill="#1a1a1a" >10th</text>
<path d="M559,137.9 H585" stroke="#ecc39c" stroke-width="1.6" fill="none"/>
<text x="589" y="141.9" font-size="11" font-weight="bold" text-anchor="start" fill="#1a1a1a" >50th</text>
<path d="M559,152.2 H585" stroke="#7aa08a" stroke-width="1.6" fill="none"/>
<text x="589" y="156.2" font-size="11" font-weight="bold" text-anchor="start" fill="#1a1a1a" >100th</text>
<path d="M275.83,229.4 V367.3" stroke="#d9d9d9" stroke-width="0.9" stroke-dasharray="2.5,2" fill="none"/>
<path d="M304.37,229.4 V367.3" stroke="#d9d9d9" stroke-width="0.9" stroke-dasharray="2.5,2" fill="none"/>
<path d="M332.9,229.4 V367.3" stroke="#d9d9d9" stroke-width="0.9" stroke-dasharray="2.5,2" fill="none"/>
<path d="M361.43,229.4 V367.3" stroke="#d9d9d9" stroke-width="0.9" stroke-dasharray="2.5,2" fill="none"/>
<path d="M389.97,229.4 V367.3" stroke="#d9d9d9" stroke-width="0.9" stroke-dasharray="2.5,2" fill="none"/>
<path d="M253.01,285.66 L258.71,286.08 L264.42,286.49 L270.13,286.77 L275.83,287.18 L281.54,291.04 L287.25,291.46 L292.95,291.87 L298.66,292.14 L304.37,292.56 L310.07,294.76 L315.78,295.04 L321.49,295.32 L327.19,295.59 L332.9,295.87 L338.61,298.49 L344.31,298.76 L350.02,298.9 L355.73,299.04 L361.43,299.32 L367.14,305.38 L372.85,305.52 L378.55,305.66 L384.26,305.8 L389.97,305.8 L395.67,299.32 L401.38,299.45 L407.09,299.73 L412.79,299.87 L418.5,300.14" stroke="#eebb86" stroke-width="1.7" fill="none"/>
<circle cx="253.01" cy="285.66" r="1.35" fill="#e8b27c" stroke="#b89878" stroke-width="0.45"/>
<circle cx="258.71" cy="286.08" r="1.35" fill="#e8b27c" stroke="#b89878" stroke-width="0.45"/>
<circle cx="264.42" cy="286.49" r="1.35" fill="#e8b27c" stroke="#b89878" stroke-width="0.45"/>
<circle cx="270.13" cy="286.77" r="1.35" fill="#e8b27c" stroke="#b89878" stroke-width="0.45"/>
<circle cx="275.83" cy="287.18" r="1.35" fill="#e8b27c" stroke="#b89878" stroke-width="0.45"/>
<circle cx="281.54" cy="291.04" r="1.35" fill="#e8b27c" stroke="#b89878" stroke-width="0.45"/>
<circle cx="287.25" cy="291.46" r="1.35" fill="#e8b27c" stroke="#b89878" stroke-width="0.45"/>
<circle cx="292.95" cy="291.87" r="1.35" fill="#e8b27c" stroke="#b89878" stroke-width="0.45"/>
<circle cx="298.66" cy="292.14" r="1.35" fill="#e8b27c" stroke="#b89878" stroke-width="0.45"/>
<circle cx="304.37" cy="292.56" r="1.35" fill="#e8b27c" stroke="#b89878" stroke-width="0.45"/>
<circle cx="310.07" cy="294.76" r="1.35" fill="#e8b27c" stroke="#b89878" stroke-width="0.45"/>
<circle cx="315.78" cy="295.04" r="1.35" fill="#e8b27c" stroke="#b89878" stroke-width="0.45"/>
<circle cx="321.49" cy="295.32" r="1.35" fill="#e8b27c" stroke="#b89878" stroke-width="0.45"/>
<circle cx="327.19" cy="295.59" r="1.35" fill="#e8b27c" stroke="#b89878" stroke-width="0.45"/>
<circle cx="332.9" cy="295.87" r="1.35" fill="#e8b27c" stroke="#b89878" stroke-width="0.45"/>
<circle cx="338.61" cy="298.49" r="1.35" fill="#e8b27c" stroke="#b89878" stroke-width="0.45"/>
<circle cx="344.31" cy="298.76" r="1.35" fill="#e8b27c" stroke="#b89878" stroke-width="0.45"/>
<circle cx="350.02" cy="298.9" r="1.35" fill="#e8b27c" stroke="#b89878" stroke-width="0.45"/>
<circle cx="355.73" cy="299.04" r="1.35" fill="#e8b27c" stroke="#b89878" stroke-width="0.45"/>
<circle cx="361.43" cy="299.32" r="1.35" fill="#e8b27c" stroke="#b89878" stroke-width="0.45"/>
<circle cx="367.14" cy="305.38" r="1.35" fill="#e8b27c" stroke="#b89878" stroke-width="0.45"/>
<circle cx="372.85" cy="305.52" r="1.35" fill="#e8b27c" stroke="#b89878" stroke-width="0.45"/>
<circle cx="378.55" cy="305.66" r="1.35" fill="#e8b27c" stroke="#b89878" stroke-width="0.45"/>
<circle cx="384.26" cy="305.8" r="1.35" fill="#e8b27c" stroke="#b89878" stroke-width="0.45"/>
<circle cx="389.97" cy="305.8" r="1.35" fill="#e8b27c" stroke="#b89878" stroke-width="0.45"/>
<circle cx="395.67" cy="299.32" r="1.35" fill="#e8b27c" stroke="#b89878" stroke-width="0.45"/>
<circle cx="401.38" cy="299.45" r="1.35" fill="#e8b27c" stroke="#b89878" stroke-width="0.45"/>
<circle cx="407.09" cy="299.73" r="1.35" fill="#e8b27c" stroke="#b89878" stroke-width="0.45"/>
<circle cx="412.79" cy="299.87" r="1.35" fill="#e8b27c" stroke="#b89878" stroke-width="0.45"/>
<circle cx="418.5" cy="300.14" r="1.35" fill="#e8b27c" stroke="#b89878" stroke-width="0.45"/>
<path d="M247.3,229.4 H418.5 V367.3 H247.3 Z" stroke="#505050" stroke-width="1.6" fill="none"/>
<path d="M247.3,367.3 v3 M261.57,367.3 v2 M275.83,367.3 v3 M290.1,367.3 v2 M304.37,367.3 v3 M318.63,367.3 v2 M332.9,367.3 v3 M347.17,367.3 v2 M361.43,367.3 v3 M375.7,367.3 v2 M389.97,367.3 v3 M404.23,367.3 v2 M418.5,367.3 v3 M247.3,367.3 h-3 M247.3,350.06 h-2 M247.3,332.82 h-3 M247.3,315.59 h-2 M247.3,298.35 h-3 M247.3,281.11 h-2 M247.3,263.88 h-3 M247.3,246.64 h-2 M247.3,229.4 h-3" stroke="#505050" stroke-width="1.2" fill="none"/>
<text x="242.5" y="371" font-size="10.5" font-weight="bold" text-anchor="end" fill="#1a1a1a" >100</text>
<text x="242.5" y="336.52" font-size="10.5" font-weight="bold" text-anchor="end" fill="#1a1a1a" >125</text>
<text x="242.5" y="302.05" font-size="10.5" font-weight="bold" text-anchor="end" fill="#1a1a1a" >150</text>
<text x="242.5" y="267.57" font-size="10.5" font-weight="bold" text-anchor="end" fill="#1a1a1a" >175</text>
<text x="242.5" y="233.1" font-size="10.5" font-weight="bold" text-anchor="end" fill="#1a1a1a" >200</text>
<text x="247.3" y="380.6" font-size="11" font-weight="bold" text-anchor="middle" fill="#1a1a1a" >0</text>
<text x="275.83" y="380.6" font-size="11" font-weight="bold" text-anchor="middle" fill="#1a1a1a" >5</text>
<text x="304.37" y="380.6" font-size="11" font-weight="bold" text-anchor="middle" fill="#1a1a1a" >10</text>
<text x="332.9" y="380.6" font-size="11" font-weight="bold" text-anchor="middle" fill="#1a1a1a" >15</text>
<text x="361.43" y="380.6" font-size="11" font-weight="bold" text-anchor="middle" fill="#1a1a1a" >20</text>
<text x="389.97" y="380.6" font-size="11" font-weight="bold" text-anchor="middle" fill="#1a1a1a" >25</text>
<text x="418.5" y="380.6" font-size="11" font-weight="bold" text-anchor="middle" fill="#1a1a1a" >30</text>
<text x="333" y="399.6" font-size="11.6" font-weight="bold" text-anchor="middle" fill="#1a1a1a" >Cycle Number</text>
<text transform="translate(218.5,298) rotate(-90)" font-size="11.5" font-weight="bold" text-anchor="middle" fill="#1a1a1a">Specific Capacity (mA h g<tspan dy="-4" font-size="7.5">-1</tspan><tspan dy="4">)</tspan></text>
<text x="250" y="280.5" font-size="10.3" font-weight="bold" text-anchor="start" fill="#1a1a1a" >0.1 C</text>
<text x="278.5" y="285" font-size="10.3" font-weight="bold" text-anchor="start" fill="#1a1a1a" >0.2 C</text>
<text x="307" y="289.5" font-size="10.3" font-weight="bold" text-anchor="start" fill="#1a1a1a" >0.5 C</text>
<text x="340.5" y="294.5" font-size="10.3" font-weight="bold" text-anchor="start" fill="#1a1a1a" >1 C</text>
<text x="368" y="299.5" font-size="10.3" font-weight="bold" text-anchor="start" fill="#1a1a1a" >2 C</text>
<text x="396.5" y="295.5" font-size="10.3" font-weight="bold" text-anchor="start" fill="#1a1a1a" >1 C</text>
<path d="M517.7,345.07 L517.7,344.57 L517.72,343.07 L517.74,340.66 L517.78,337.42 L517.82,333.51 L517.88,329.07 L517.94,324.29 L518.02,319.31 L518.1,314.32 L518.2,309.45 L518.3,304.81 L518.42,300.51 L518.54,296.61 L518.68,293.14 L518.82,290.12 L518.97,287.54 L519.14,285.39 L519.31,283.61 L519.49,282.18 L519.69,281.04 L519.89,280.15 L520.1,279.47 L520.32,278.96 L520.56,278.58 L520.8,278.3 L521.05,278.09 L521.31,277.95 L521.58,277.85 L521.86,277.78 L522.15,277.73 L522.44,277.69 L522.75,277.67 L523.07,277.65 L523.39,277.63 L523.73,277.62 L524.07,277.61 L524.42,277.6 L524.79,277.6 L525.16,277.59 L525.54,277.58 L525.92,277.58 L526.32,277.57 L526.73,277.56 L527.14,277.55 L527.57,277.55 L528,277.54 L528.44,277.53 L528.89,277.52 L529.34,277.51 L529.81,277.5 L530.28,277.5 L530.77,277.49 L531.26,277.48 L531.75,277.47 L532.26,277.46 L532.77,277.45 L533.29,277.44 L533.82,277.43 L534.36,277.42 L534.9,277.41 L535.46,277.4 L536.02,277.39 L536.58,277.38 L537.16,277.36 L537.74,277.35 L538.33,277.34 L538.92,277.33 L539.52,277.32 L540.13,277.31 L540.75,277.29 L541.37,277.28 L542,277.27 L542.63,277.26 L543.27,277.24 L543.92,277.23 L544.57,277.22 L545.23,277.2 L545.9,277.19 L546.57,277.17 L547.25,277.16 L547.93,277.15 L548.62,277.13 L549.32,277.12 L550.01,277.1 L550.72,277.09 L551.43,277.07 L552.14,277.06 L552.86,277.04 L553.59,277.02 L554.32,277.01 L555.05,276.99 L555.79,276.97 L556.54,276.96 L557.28,276.94 L558.03,276.92 L558.79,276.9 L559.55,276.89 L560.31,276.87 L561.08,276.85 L561.85,276.83 L562.63,276.81 L563.41,276.79 L564.19,276.77 L564.97,276.75 L565.76,276.73 L566.55,276.71 L567.34,276.69 L568.14,276.67 L568.94,276.65 L569.74,276.63 L570.54,276.61 L571.35,276.59 L572.16,276.56 L572.97,276.54 L573.78,276.52 L574.59,276.5 L575.41,276.47 L576.23,276.45 L577.05,276.42 L577.87,276.4 L578.69,276.37 L579.51,276.35 L580.33,276.32 L581.16,276.3 L581.98,276.27 L582.81,276.25 L583.63,276.22 L584.46,276.19 L585.29,276.16 L586.11,276.13 L586.94,276.11 L587.76,276.08 L588.59,276.05 L589.42,276.02 L590.24,275.98 L591.07,275.95 L591.89,275.92 L592.71,275.89 L593.54,275.86 L594.36,275.82 L595.18,275.79 L596,275.75 L596.81,275.72 L597.63,275.68 L598.44,275.65 L599.26,275.61 L600.07,275.57 L600.87,275.53 L601.68,275.49 L602.48,275.45 L603.29,275.41 L604.08,275.37 L604.88,275.33 L605.67,275.28 L606.46,275.24 L607.25,275.2 L608.04,275.15 L608.82,275.1 L609.6,275.05 L610.37,275 L611.14,274.95 L611.91,274.9 L612.67,274.85 L613.43,274.8 L614.19,274.74 L614.94,274.68 L615.69,274.63 L616.43,274.57 L617.17,274.51 L617.9,274.44 L618.63,274.38 L619.36,274.31 L620.08,274.25 L620.79,274.18 L621.5,274.11 L622.21,274.03 L622.91,273.96 L623.6,273.88 L624.29,273.8 L624.97,273.72 L625.65,273.64 L626.32,273.55 L626.99,273.46 L627.65,273.37 L628.3,273.28 L628.95,273.18 L629.59,273.08 L630.23,272.97 L630.86,272.87 L631.48,272.76 L632.09,272.64 L632.7,272.52 L633.3,272.4 L633.9,272.28 L634.49,272.14 L635.07,272.01 L635.64,271.87 L636.21,271.72 L636.77,271.57 L637.32,271.42 L637.86,271.26 L638.4,271.09 L638.93,270.91 L639.45,270.73 L639.96,270.55 L640.47,270.35 L640.97,270.15 L641.46,269.94 L641.94,269.72 L642.41,269.49 L642.88,269.25 L643.34,269 L643.78,268.74 L644.23,268.47 L644.66,268.19 L645.08,267.9 L645.5,267.6 L645.9,267.28 L646.3,266.95 L646.69,266.6 L647.07,266.24 L647.44,265.86 L647.8,265.47 L648.15,265.06 L648.5,264.63 L648.83,264.19 L649.16,263.73 L649.47,263.24 L649.78,262.74 L650.08,262.21 L650.37,261.67 L650.65,261.1 L650.91,260.52 L651.18,259.91 L651.43,259.28 L651.67,258.63 L651.9,257.96 L652.12,257.27 L652.33,256.57 L652.54,255.84 L652.73,255.11 L652.91,254.36 L653.09,253.6 L653.25,252.84 L653.4,252.08 L653.55,251.32 L653.68,250.57 L653.81,249.84 L653.92,249.13 L654.02,248.44 L654.12,247.79 L654.2,247.19 L654.28,246.63 L654.34,246.14 L654.4,245.7 L654.44,245.34 L654.48,245.05 L654.5,244.84 L654.52,244.71 L654.52,244.66" stroke="#ecae72" stroke-width="1.1" fill="none"/>
<path d="M517.7,244.8 L517.7,245.11 L517.72,246 L517.74,247.46 L517.78,249.42 L517.82,251.81 L517.88,254.54 L517.94,257.53 L518.02,260.67 L518.1,263.87 L518.2,267.05 L518.3,270.13 L518.42,273.05 L518.54,275.76 L518.68,278.22 L518.82,280.43 L518.97,282.36 L519.14,284.03 L519.31,285.45 L519.49,286.64 L519.69,287.61 L519.89,288.4 L520.1,289.03 L520.32,289.53 L520.56,289.92 L520.8,290.22 L521.05,290.44 L521.31,290.61 L521.58,290.74 L521.86,290.83 L522.15,290.9 L522.44,290.95 L522.75,290.99 L523.07,291.02 L523.39,291.05 L523.73,291.07 L524.07,291.08 L524.42,291.1 L524.79,291.11 L525.16,291.13 L525.54,291.14 L525.92,291.15 L526.32,291.17 L526.73,291.18 L527.14,291.19 L527.57,291.21 L528,291.22 L528.44,291.24 L528.89,291.25 L529.34,291.27 L529.81,291.28 L530.28,291.3 L530.77,291.31 L531.26,291.33 L531.75,291.35 L532.26,291.37 L532.77,291.38 L533.29,291.4 L533.82,291.42 L534.36,291.44 L534.9,291.45 L535.46,291.47 L536.02,291.49 L536.58,291.51 L537.16,291.53 L537.74,291.55 L538.33,291.57 L538.92,291.59 L539.52,291.61 L540.13,291.63 L540.75,291.66 L541.37,291.68 L542,291.7 L542.63,291.72 L543.27,291.74 L543.92,291.77 L544.57,291.79 L545.23,291.81 L545.9,291.84 L546.57,291.86 L547.25,291.88 L547.93,291.91 L548.62,291.93 L549.32,291.96 L550.01,291.98 L550.72,292.01 L551.43,292.04 L552.14,292.06 L552.86,292.09 L553.59,292.12 L554.32,292.14 L555.05,292.17 L555.79,292.2 L556.54,292.23 L557.28,292.25 L558.03,292.28 L558.79,292.31 L559.55,292.34 L560.31,292.37 L561.08,292.4 L561.85,292.43 L562.63,292.46 L563.41,292.49 L564.19,292.52 L564.97,292.55 L565.76,292.59 L566.55,292.62 L567.34,292.65 L568.14,292.68 L568.94,292.72 L569.74,292.75 L570.54,292.78 L571.35,292.82 L572.16,292.85 L572.97,292.89 L573.78,292.92 L574.59,292.96 L575.41,292.99 L576.23,293.03 L577.05,293.06 L577.87,293.1 L578.69,293.14 L579.51,293.18 L580.33,293.21 L581.16,293.25 L581.98,293.29 L582.81,293.33 L583.63,293.37 L584.46,293.41 L585.29,293.45 L586.11,293.49 L586.94,293.53 L587.76,293.58 L588.59,293.62 L589.42,293.66 L590.24,293.7 L591.07,293.75 L591.89,293.79 L592.71,293.84 L593.54,293.88 L594.36,293.93 L595.18,293.98 L596,294.02 L596.81,294.07 L597.63,294.12 L598.44,294.17 L599.26,294.22 L600.07,294.27 L600.87,294.32 L601.68,294.37 L602.48,294.43 L603.29,294.48 L604.08,294.53 L604.88,294.59 L605.67,294.65 L606.46,294.7 L607.25,294.76 L608.04,294.82 L608.82,294.88 L609.6,294.94 L610.37,295 L611.14,295.07 L611.91,295.13 L612.67,295.2 L613.43,295.26 L614.19,295.33 L614.94,295.4 L615.69,295.47 L616.43,295.55 L617.17,295.62 L617.9,295.7 L618.63,295.77 L619.36,295.85 L620.08,295.93 L620.79,296.02 L621.5,296.1 L622.21,296.19 L622.91,296.28 L623.6,296.37 L624.29,296.46 L624.97,296.56 L625.65,296.66 L626.32,296.76 L626.99,296.87 L627.65,296.97 L628.3,297.08 L628.95,297.2 L629.59,297.32 L630.23,297.44 L630.86,297.56 L631.48,297.69 L632.09,297.82 L632.7,297.96 L633.3,298.1 L633.9,298.25 L634.49,298.4 L635.07,298.56 L635.64,298.72 L636.21,298.89 L636.77,299.07 L637.32,299.25 L637.86,299.44 L638.4,299.64 L638.93,299.84 L639.45,300.05 L639.96,300.28 L640.47,300.51 L640.97,300.75 L641.46,301 L641.94,301.26 L642.41,301.54 L642.88,301.82 L643.34,302.12 L643.78,302.44 L644.23,302.77 L644.66,303.11 L645.08,303.48 L645.5,303.86 L645.9,304.26 L646.3,304.68 L646.69,305.12 L647.07,305.58 L647.44,306.07 L647.8,306.58 L648.15,307.12 L648.5,307.7 L648.83,308.3 L649.16,308.93 L649.47,309.6 L649.78,310.31 L650.08,311.05 L650.37,311.84 L650.65,312.66 L650.91,313.54 L651.18,314.46 L651.43,315.43 L651.67,316.45 L651.9,317.52 L652.12,318.64 L652.33,319.82 L652.54,321.04 L652.73,322.33 L652.91,323.66 L653.09,325.03 L653.25,326.46 L653.4,327.91 L653.55,329.4 L653.68,330.9 L653.81,332.41 L653.92,333.91 L654.02,335.38 L654.12,336.82 L654.2,338.18 L654.28,339.46 L654.34,340.63 L654.4,341.67 L654.44,342.56 L654.48,343.27 L654.5,343.79 L654.52,344.1 L654.52,344.21" stroke="#ecae72" stroke-width="1.1" fill="none"/>
<path d="M517.7,345.07 L517.71,344.57 L517.72,343.1 L517.75,340.72 L517.79,337.55 L517.84,333.73 L517.9,329.44 L517.97,324.84 L518.05,320.12 L518.14,315.43 L518.25,310.92 L518.36,306.68 L518.49,302.82 L518.62,299.37 L518.77,296.36 L518.93,293.8 L519.1,291.66 L519.28,289.91 L519.47,288.5 L519.67,287.4 L519.88,286.54 L520.1,285.89 L520.34,285.41 L520.58,285.06 L520.83,284.8 L521.1,284.62 L521.37,284.5 L521.66,284.41 L521.95,284.35 L522.26,284.31 L522.58,284.28 L522.9,284.26 L523.24,284.25 L523.59,284.24 L523.94,284.23 L524.31,284.22 L524.69,284.22 L525.08,284.21 L525.47,284.21 L525.88,284.2 L526.3,284.2 L526.72,284.19 L527.16,284.18 L527.6,284.18 L528.06,284.17 L528.52,284.17 L529,284.16 L529.48,284.15 L529.97,284.15 L530.47,284.14 L530.98,284.13 L531.5,284.13 L532.03,284.12 L532.57,284.11 L533.11,284.11 L533.67,284.1 L534.23,284.09 L534.81,284.08 L535.39,284.08 L535.97,284.07 L536.57,284.06 L537.18,284.05 L537.79,284.04 L538.41,284.04 L539.04,284.03 L539.68,284.02 L540.32,284.01 L540.98,284 L541.64,283.99 L542.3,283.98 L542.98,283.97 L543.66,283.97 L544.35,283.96 L545.05,283.95 L545.75,283.94 L546.46,283.93 L547.18,283.92 L547.9,283.91 L548.63,283.9 L549.37,283.89 L550.11,283.88 L550.86,283.87 L551.62,283.86 L552.38,283.84 L553.15,283.83 L553.92,283.82 L554.7,283.81 L555.48,283.8 L556.27,283.79 L557.07,283.78 L557.87,283.77 L558.67,283.75 L559.48,283.74 L560.3,283.73 L561.12,283.72 L561.94,283.71 L562.77,283.69 L563.61,283.68 L564.44,283.67 L565.28,283.65 L566.13,283.64 L566.98,283.63 L567.83,283.62 L568.69,283.6 L569.55,283.59 L570.42,283.58 L571.28,283.56 L572.15,283.55 L573.03,283.53 L573.9,283.52 L574.78,283.51 L575.66,283.49 L576.55,283.48 L577.43,283.46 L578.32,283.45 L579.21,283.43 L580.11,283.42 L581,283.4 L581.9,283.39 L582.8,283.37 L583.69,283.35 L584.6,283.34 L585.5,283.32 L586.4,283.31 L587.3,283.29 L588.21,283.27 L589.11,283.26 L590.02,283.24 L590.93,283.22 L591.83,283.2 L592.74,283.19 L593.65,283.17 L594.55,283.15 L595.46,283.13 L596.37,283.11 L597.27,283.09 L598.18,283.08 L599.08,283.06 L599.98,283.04 L600.88,283.02 L601.78,283 L602.68,282.98 L603.58,282.96 L604.48,282.94 L605.37,282.91 L606.27,282.89 L607.16,282.87 L608.05,282.85 L608.93,282.83 L609.82,282.8 L610.7,282.78 L611.58,282.76 L612.45,282.73 L613.33,282.71 L614.2,282.69 L615.06,282.66 L615.93,282.64 L616.79,282.61 L617.65,282.58 L618.5,282.56 L619.35,282.53 L620.2,282.5 L621.04,282.47 L621.87,282.44 L622.71,282.42 L623.54,282.39 L624.36,282.35 L625.18,282.32 L626,282.29 L626.81,282.26 L627.61,282.23 L628.41,282.19 L629.21,282.16 L630,282.12 L630.78,282.08 L631.56,282.05 L632.33,282.01 L633.1,281.97 L633.86,281.93 L634.62,281.88 L635.37,281.84 L636.11,281.8 L636.85,281.75 L637.58,281.7 L638.3,281.66 L639.02,281.61 L639.73,281.56 L640.43,281.5 L641.13,281.45 L641.82,281.39 L642.5,281.33 L643.18,281.27 L643.84,281.21 L644.5,281.14 L645.16,281.08 L645.8,281.01 L646.44,280.93 L647.07,280.86 L647.69,280.78 L648.3,280.7 L648.91,280.61 L649.51,280.52 L650.09,280.43 L650.67,280.33 L651.25,280.23 L651.81,280.13 L652.36,280.02 L652.91,279.9 L653.45,279.78 L653.98,279.65 L654.5,279.52 L655.01,279.38 L655.51,279.23 L656,279.07 L656.48,278.91 L656.96,278.74 L657.42,278.55 L657.88,278.36 L658.32,278.15 L658.76,277.94 L659.18,277.71 L659.6,277.46 L660.01,277.2 L660.4,276.93 L660.79,276.63 L661.17,276.32 L661.54,275.99 L661.89,275.63 L662.24,275.25 L662.58,274.84 L662.9,274.4 L663.22,273.94 L663.53,273.43 L663.82,272.89 L664.11,272.31 L664.38,271.69 L664.65,271.02 L664.9,270.3 L665.14,269.52 L665.38,268.69 L665.6,267.79 L665.81,266.83 L666.01,265.8 L666.2,264.69 L666.38,263.51 L666.55,262.26 L666.71,260.93 L666.86,259.53 L666.99,258.07 L667.12,256.56 L667.23,255.01 L667.34,253.44 L667.43,251.88 L667.51,250.35 L667.58,248.91 L667.64,247.59 L667.69,246.42 L667.73,245.47 L667.76,244.75 L667.77,244.31 L667.78,244.16" stroke="#dc7c76" stroke-width="1.1" fill="none"/>
<path d="M517.7,244.8 L517.71,245.09 L517.72,245.94 L517.75,247.31 L517.79,249.15 L517.84,251.38 L517.9,253.92 L517.97,256.68 L518.05,259.55 L518.14,262.45 L518.24,265.3 L518.36,268.03 L518.48,270.58 L518.62,272.92 L518.76,275.01 L518.92,276.85 L519.09,278.44 L519.27,279.79 L519.46,280.9 L519.66,281.82 L519.87,282.56 L520.09,283.14 L520.32,283.59 L520.56,283.94 L520.81,284.21 L521.08,284.4 L521.35,284.55 L521.63,284.65 L521.93,284.73 L522.23,284.79 L522.55,284.83 L522.87,284.85 L523.2,284.88 L523.55,284.89 L523.9,284.9 L524.27,284.91 L524.64,284.92 L525.03,284.93 L525.42,284.94 L525.83,284.95 L526.24,284.95 L526.66,284.96 L527.1,284.97 L527.54,284.98 L527.99,284.99 L528.45,284.99 L528.92,285 L529.4,285.01 L529.89,285.02 L530.39,285.03 L530.9,285.04 L531.42,285.04 L531.94,285.05 L532.47,285.06 L533.02,285.07 L533.57,285.08 L534.13,285.09 L534.7,285.1 L535.27,285.11 L535.86,285.12 L536.45,285.13 L537.05,285.14 L537.66,285.15 L538.28,285.17 L538.91,285.18 L539.54,285.19 L540.18,285.2 L540.83,285.21 L541.49,285.22 L542.15,285.24 L542.82,285.25 L543.5,285.26 L544.18,285.27 L544.87,285.28 L545.57,285.3 L546.28,285.31 L546.99,285.32 L547.71,285.34 L548.44,285.35 L549.17,285.36 L549.91,285.38 L550.65,285.39 L551.4,285.41 L552.16,285.42 L552.92,285.43 L553.69,285.45 L554.46,285.46 L555.24,285.48 L556.03,285.49 L556.82,285.51 L557.61,285.52 L558.41,285.54 L559.22,285.56 L560.03,285.57 L560.84,285.59 L561.66,285.6 L562.49,285.62 L563.32,285.64 L564.15,285.65 L564.98,285.67 L565.82,285.69 L566.67,285.71 L567.52,285.72 L568.37,285.74 L569.22,285.76 L570.08,285.78 L570.94,285.79 L571.81,285.81 L572.68,285.83 L573.55,285.85 L574.42,285.87 L575.3,285.89 L576.18,285.91 L577.06,285.93 L577.94,285.95 L578.83,285.97 L579.71,285.99 L580.6,286.01 L581.49,286.03 L582.38,286.05 L583.28,286.07 L584.17,286.09 L585.07,286.11 L585.97,286.13 L586.87,286.16 L587.76,286.18 L588.66,286.2 L589.56,286.22 L590.46,286.25 L591.37,286.27 L592.27,286.29 L593.17,286.32 L594.07,286.34 L594.97,286.36 L595.87,286.39 L596.77,286.41 L597.67,286.44 L598.57,286.46 L599.46,286.49 L600.36,286.52 L601.25,286.54 L602.15,286.57 L603.04,286.6 L603.93,286.62 L604.82,286.65 L605.71,286.68 L606.59,286.71 L607.48,286.74 L608.36,286.77 L609.24,286.8 L610.11,286.83 L610.98,286.86 L611.86,286.89 L612.72,286.92 L613.59,286.95 L614.45,286.98 L615.31,287.02 L616.16,287.05 L617.02,287.09 L617.86,287.12 L618.71,287.16 L619.55,287.19 L620.39,287.23 L621.22,287.27 L622.05,287.31 L622.87,287.35 L623.69,287.39 L624.5,287.43 L625.31,287.47 L626.12,287.52 L626.92,287.56 L627.71,287.6 L628.5,287.65 L629.29,287.7 L630.07,287.75 L630.84,287.8 L631.61,287.85 L632.37,287.9 L633.13,287.95 L633.88,288.01 L634.62,288.07 L635.36,288.12 L636.1,288.18 L636.82,288.25 L637.54,288.31 L638.25,288.38 L638.96,288.44 L639.66,288.51 L640.35,288.59 L641.04,288.66 L641.71,288.74 L642.38,288.82 L643.05,288.9 L643.7,288.99 L644.35,289.08 L644.99,289.17 L645.63,289.27 L646.25,289.37 L646.87,289.47 L647.48,289.58 L648.08,289.69 L648.67,289.81 L649.26,289.93 L649.84,290.06 L650.4,290.2 L650.96,290.34 L651.52,290.48 L652.06,290.64 L652.59,290.8 L653.12,290.97 L653.63,291.15 L654.14,291.34 L654.64,291.53 L655.13,291.74 L655.61,291.96 L656.08,292.19 L656.54,292.44 L656.99,292.7 L657.44,292.98 L657.87,293.27 L658.29,293.58 L658.71,293.91 L659.11,294.26 L659.5,294.63 L659.89,295.03 L660.26,295.46 L660.63,295.92 L660.98,296.4 L661.33,296.93 L661.66,297.49 L661.99,298.09 L662.3,298.74 L662.61,299.44 L662.9,300.19 L663.18,301 L663.46,301.87 L663.72,302.82 L663.97,303.84 L664.21,304.94 L664.45,306.14 L664.67,307.43 L664.88,308.82 L665.08,310.33 L665.27,311.95 L665.44,313.7 L665.61,315.57 L665.77,317.58 L665.91,319.7 L666.05,321.95 L666.18,324.31 L666.29,326.75 L666.39,329.24 L666.48,331.75 L666.57,334.23 L666.64,336.6 L666.7,338.8 L666.75,340.75 L666.78,342.37 L666.81,343.58 L666.83,344.34 L666.83,344.6" stroke="#dc7c76" stroke-width="1.1" fill="none"/>
<path d="M517.7,345.07 L517.71,344.57 L517.72,343.1 L517.75,340.72 L517.79,337.54 L517.83,333.71 L517.89,329.39 L517.96,324.76 L518.04,319.99 L518.13,315.23 L518.23,310.63 L518.35,306.31 L518.47,302.34 L518.6,298.78 L518.74,295.66 L518.9,292.98 L519.06,290.73 L519.24,288.88 L519.42,287.39 L519.62,286.2 L519.83,285.27 L520.04,284.57 L520.27,284.04 L520.51,283.64 L520.75,283.36 L521.01,283.15 L521.28,283.01 L521.56,282.91 L521.85,282.84 L522.14,282.79 L522.45,282.76 L522.77,282.74 L523.1,282.72 L523.44,282.71 L523.79,282.7 L524.14,282.69 L524.51,282.68 L524.89,282.67 L525.28,282.67 L525.67,282.66 L526.08,282.65 L526.49,282.65 L526.92,282.64 L527.35,282.63 L527.8,282.63 L528.25,282.62 L528.71,282.61 L529.18,282.61 L529.66,282.6 L530.15,282.59 L530.65,282.58 L531.15,282.57 L531.67,282.57 L532.19,282.56 L532.73,282.55 L533.27,282.54 L533.82,282.53 L534.37,282.52 L534.94,282.51 L535.51,282.5 L536.1,282.49 L536.69,282.48 L537.28,282.48 L537.89,282.47 L538.5,282.46 L539.12,282.44 L539.75,282.43 L540.39,282.42 L541.03,282.41 L541.68,282.4 L542.34,282.39 L543.01,282.38 L543.68,282.37 L544.36,282.36 L545.04,282.35 L545.74,282.33 L546.43,282.32 L547.14,282.31 L547.85,282.3 L548.57,282.29 L549.29,282.27 L550.02,282.26 L550.76,282.25 L551.5,282.23 L552.25,282.22 L553,282.21 L553.76,282.19 L554.53,282.18 L555.3,282.17 L556.07,282.15 L556.85,282.14 L557.64,282.13 L558.43,282.11 L559.22,282.1 L560.02,282.08 L560.83,282.07 L561.63,282.05 L562.45,282.04 L563.26,282.02 L564.08,282.01 L564.91,281.99 L565.74,281.97 L566.57,281.96 L567.4,281.94 L568.24,281.93 L569.08,281.91 L569.93,281.89 L570.78,281.88 L571.63,281.86 L572.48,281.84 L573.34,281.82 L574.2,281.81 L575.06,281.79 L575.93,281.77 L576.79,281.75 L577.66,281.74 L578.53,281.72 L579.4,281.7 L580.28,281.68 L581.15,281.66 L582.03,281.64 L582.91,281.62 L583.79,281.6 L584.67,281.58 L585.55,281.56 L586.43,281.54 L587.31,281.52 L588.2,281.5 L589.08,281.48 L589.96,281.46 L590.85,281.43 L591.73,281.41 L592.61,281.39 L593.5,281.37 L594.38,281.35 L595.26,281.32 L596.14,281.3 L597.03,281.28 L597.91,281.25 L598.78,281.23 L599.66,281.2 L600.54,281.18 L601.41,281.15 L602.29,281.13 L603.16,281.1 L604.03,281.07 L604.9,281.05 L605.77,281.02 L606.63,280.99 L607.49,280.97 L608.35,280.94 L609.21,280.91 L610.06,280.88 L610.91,280.85 L611.76,280.82 L612.61,280.79 L613.45,280.76 L614.29,280.72 L615.12,280.69 L615.96,280.66 L616.78,280.62 L617.61,280.59 L618.43,280.55 L619.25,280.52 L620.06,280.48 L620.87,280.44 L621.67,280.41 L622.47,280.37 L623.26,280.33 L624.05,280.29 L624.84,280.25 L625.62,280.2 L626.39,280.16 L627.16,280.11 L627.93,280.07 L628.69,280.02 L629.44,279.97 L630.19,279.92 L630.93,279.87 L631.67,279.82 L632.4,279.77 L633.12,279.71 L633.84,279.65 L634.55,279.6 L635.26,279.53 L635.96,279.47 L636.65,279.41 L637.33,279.34 L638.01,279.27 L638.69,279.2 L639.35,279.13 L640.01,279.05 L640.66,278.98 L641.3,278.9 L641.94,278.81 L642.57,278.72 L643.19,278.63 L643.8,278.54 L644.41,278.44 L645.01,278.34 L645.6,278.24 L646.18,278.13 L646.75,278.01 L647.32,277.89 L647.88,277.77 L648.43,277.64 L648.97,277.5 L649.5,277.36 L650.02,277.21 L650.54,277.06 L651.04,276.9 L651.54,276.72 L652.03,276.55 L652.51,276.36 L652.98,276.16 L653.44,275.95 L653.9,275.73 L654.34,275.5 L654.77,275.26 L655.2,275 L655.61,274.73 L656.02,274.44 L656.42,274.14 L656.8,273.81 L657.18,273.47 L657.55,273.11 L657.91,272.73 L658.25,272.32 L658.59,271.89 L658.92,271.43 L659.24,270.94 L659.55,270.42 L659.85,269.87 L660.13,269.28 L660.41,268.65 L660.68,267.99 L660.94,267.28 L661.19,266.53 L661.42,265.73 L661.65,264.88 L661.87,263.98 L662.07,263.03 L662.27,262.02 L662.45,260.97 L662.63,259.86 L662.79,258.71 L662.95,257.51 L663.09,256.27 L663.22,255.01 L663.35,253.73 L663.46,252.45 L663.56,251.19 L663.65,249.96 L663.73,248.79 L663.8,247.7 L663.86,246.72 L663.91,245.88 L663.94,245.19 L663.97,244.68 L663.99,244.37 L663.99,244.27" stroke="#7676ae" stroke-width="1.1" fill="none"/>
<path d="M517.7,244.8 L517.71,245.1 L517.72,245.96 L517.75,247.35 L517.79,249.23 L517.83,251.51 L517.89,254.1 L517.96,256.92 L518.04,259.86 L518.13,262.85 L518.23,265.78 L518.34,268.61 L518.47,271.25 L518.6,273.68 L518.74,275.87 L518.9,277.8 L519.06,279.47 L519.24,280.89 L519.42,282.08 L519.62,283.06 L519.82,283.86 L520.04,284.49 L520.27,284.98 L520.5,285.36 L520.75,285.65 L521.01,285.87 L521.28,286.04 L521.55,286.16 L521.84,286.24 L522.14,286.31 L522.45,286.35 L522.77,286.39 L523.09,286.41 L523.43,286.43 L523.78,286.45 L524.14,286.46 L524.5,286.47 L524.88,286.48 L525.27,286.49 L525.66,286.5 L526.07,286.51 L526.48,286.52 L526.91,286.53 L527.34,286.54 L527.78,286.55 L528.24,286.56 L528.7,286.57 L529.17,286.58 L529.65,286.59 L530.13,286.6 L530.63,286.61 L531.14,286.62 L531.65,286.63 L532.17,286.64 L532.71,286.65 L533.25,286.67 L533.8,286.68 L534.35,286.69 L534.92,286.7 L535.49,286.72 L536.07,286.73 L536.66,286.74 L537.26,286.76 L537.86,286.77 L538.48,286.78 L539.1,286.8 L539.72,286.81 L540.36,286.83 L541,286.84 L541.65,286.86 L542.31,286.87 L542.97,286.89 L543.64,286.9 L544.32,286.92 L545.01,286.93 L545.7,286.95 L546.4,286.97 L547.1,286.98 L547.81,287 L548.53,287.02 L549.25,287.03 L549.98,287.05 L550.72,287.07 L551.46,287.09 L552.21,287.1 L552.96,287.12 L553.72,287.14 L554.48,287.16 L555.25,287.18 L556.02,287.2 L556.8,287.22 L557.59,287.23 L558.38,287.25 L559.17,287.27 L559.97,287.29 L560.77,287.31 L561.58,287.33 L562.39,287.35 L563.2,287.38 L564.02,287.4 L564.85,287.42 L565.67,287.44 L566.51,287.46 L567.34,287.48 L568.18,287.5 L569.02,287.53 L569.86,287.55 L570.71,287.57 L571.56,287.59 L572.41,287.62 L573.27,287.64 L574.13,287.66 L574.99,287.69 L575.85,287.71 L576.72,287.74 L577.58,287.76 L578.45,287.79 L579.32,287.81 L580.2,287.84 L581.07,287.86 L581.95,287.89 L582.82,287.91 L583.7,287.94 L584.58,287.97 L585.46,287.99 L586.34,288.02 L587.22,288.05 L588.1,288.08 L588.99,288.1 L589.87,288.13 L590.75,288.16 L591.63,288.19 L592.52,288.22 L593.4,288.25 L594.28,288.28 L595.16,288.31 L596.04,288.34 L596.92,288.37 L597.8,288.4 L598.68,288.43 L599.56,288.47 L600.43,288.5 L601.31,288.53 L602.18,288.57 L603.05,288.6 L603.92,288.63 L604.79,288.67 L605.65,288.7 L606.51,288.74 L607.38,288.78 L608.23,288.81 L609.09,288.85 L609.94,288.89 L610.79,288.93 L611.64,288.97 L612.48,289.01 L613.33,289.05 L614.16,289.09 L615,289.13 L615.83,289.17 L616.66,289.22 L617.48,289.26 L618.3,289.31 L619.11,289.35 L619.93,289.4 L620.73,289.45 L621.54,289.5 L622.33,289.55 L623.13,289.6 L623.92,289.65 L624.7,289.7 L625.48,289.76 L626.25,289.81 L627.02,289.87 L627.79,289.93 L628.54,289.99 L629.3,290.05 L630.04,290.11 L630.78,290.18 L631.52,290.24 L632.25,290.31 L632.97,290.38 L633.69,290.46 L634.4,290.53 L635.11,290.61 L635.8,290.68 L636.5,290.77 L637.18,290.85 L637.86,290.94 L638.53,291.03 L639.19,291.12 L639.85,291.21 L640.5,291.31 L641.14,291.41 L641.78,291.52 L642.41,291.63 L643.03,291.74 L643.64,291.86 L644.24,291.99 L644.84,292.12 L645.43,292.25 L646.01,292.39 L646.59,292.53 L647.15,292.68 L647.71,292.84 L648.26,293.01 L648.8,293.18 L649.33,293.36 L649.85,293.55 L650.37,293.75 L650.87,293.96 L651.37,294.17 L651.86,294.4 L652.34,294.65 L652.81,294.9 L653.27,295.17 L653.72,295.45 L654.16,295.75 L654.6,296.07 L655.02,296.4 L655.44,296.76 L655.84,297.13 L656.24,297.53 L656.62,297.95 L657,298.4 L657.37,298.88 L657.72,299.39 L658.07,299.94 L658.41,300.52 L658.74,301.14 L659.06,301.8 L659.36,302.51 L659.66,303.27 L659.95,304.08 L660.23,304.95 L660.5,305.89 L660.75,306.89 L661,307.96 L661.24,309.11 L661.46,310.34 L661.68,311.66 L661.89,313.07 L662.08,314.57 L662.27,316.17 L662.44,317.87 L662.61,319.67 L662.76,321.56 L662.9,323.54 L663.04,325.6 L663.16,327.71 L663.27,329.86 L663.37,332.03 L663.46,334.16 L663.54,336.23 L663.61,338.17 L663.67,339.95 L663.72,341.5 L663.75,342.77 L663.78,343.71 L663.8,344.3 L663.8,344.5" stroke="#7676ae" stroke-width="1.1" fill="none"/>
<path d="M517.7,345.07 L517.71,344.57 L517.72,343.08 L517.75,340.68 L517.78,337.47 L517.83,333.6 L517.89,329.24 L517.96,324.54 L518.04,319.7 L518.13,314.86 L518.22,310.17 L518.33,305.74 L518.46,301.67 L518.59,298.01 L518.73,294.79 L518.88,292.02 L519.04,289.68 L519.21,287.75 L519.4,286.18 L519.59,284.93 L519.79,283.95 L520,283.2 L520.23,282.63 L520.46,282.21 L520.7,281.9 L520.96,281.67 L521.22,281.52 L521.5,281.4 L521.78,281.33 L522.07,281.27 L522.38,281.24 L522.69,281.21 L523.01,281.19 L523.35,281.18 L523.69,281.16 L524.04,281.15 L524.4,281.15 L524.77,281.14 L525.15,281.13 L525.54,281.12 L525.94,281.12 L526.35,281.11 L526.77,281.1 L527.2,281.09 L527.63,281.08 L528.08,281.08 L528.53,281.07 L529,281.06 L529.47,281.05 L529.95,281.04 L530.44,281.03 L530.94,281.02 L531.44,281.01 L531.96,281 L532.48,280.99 L533.01,280.98 L533.56,280.97 L534.1,280.96 L534.66,280.95 L535.23,280.94 L535.8,280.93 L536.38,280.92 L536.97,280.91 L537.56,280.9 L538.17,280.88 L538.78,280.87 L539.4,280.86 L540.02,280.85 L540.65,280.84 L541.3,280.82 L541.94,280.81 L542.6,280.8 L543.26,280.78 L543.93,280.77 L544.6,280.76 L545.28,280.74 L545.97,280.73 L546.66,280.72 L547.36,280.7 L548.07,280.69 L548.78,280.67 L549.5,280.66 L550.23,280.64 L550.96,280.63 L551.69,280.61 L552.43,280.6 L553.18,280.58 L553.93,280.57 L554.69,280.55 L555.45,280.53 L556.22,280.52 L556.99,280.5 L557.77,280.49 L558.55,280.47 L559.34,280.45 L560.13,280.43 L560.92,280.42 L561.72,280.4 L562.53,280.38 L563.33,280.36 L564.14,280.35 L564.96,280.33 L565.78,280.31 L566.6,280.29 L567.42,280.27 L568.25,280.25 L569.09,280.23 L569.92,280.21 L570.76,280.19 L571.6,280.17 L572.44,280.15 L573.29,280.13 L574.13,280.11 L574.98,280.09 L575.84,280.07 L576.69,280.05 L577.55,280.03 L578.41,280 L579.26,279.98 L580.13,279.96 L580.99,279.94 L581.85,279.91 L582.72,279.89 L583.58,279.87 L584.45,279.84 L585.32,279.82 L586.19,279.8 L587.05,279.77 L587.92,279.75 L588.79,279.72 L589.66,279.7 L590.53,279.67 L591.4,279.65 L592.27,279.62 L593.14,279.59 L594.01,279.57 L594.88,279.54 L595.74,279.51 L596.61,279.48 L597.47,279.46 L598.34,279.43 L599.2,279.4 L600.06,279.37 L600.92,279.34 L601.78,279.31 L602.63,279.28 L603.49,279.24 L604.34,279.21 L605.19,279.18 L606.04,279.15 L606.88,279.11 L607.73,279.08 L608.57,279.05 L609.41,279.01 L610.24,278.98 L611.07,278.94 L611.9,278.9 L612.73,278.87 L613.55,278.83 L614.37,278.79 L615.18,278.75 L615.99,278.71 L616.8,278.67 L617.6,278.62 L618.4,278.58 L619.2,278.54 L619.99,278.49 L620.77,278.45 L621.56,278.4 L622.33,278.35 L623.11,278.3 L623.87,278.25 L624.64,278.2 L625.39,278.15 L626.14,278.1 L626.89,278.04 L627.63,277.98 L628.37,277.93 L629.1,277.87 L629.82,277.81 L630.54,277.74 L631.25,277.68 L631.96,277.61 L632.66,277.54 L633.36,277.47 L634.04,277.4 L634.72,277.33 L635.4,277.25 L636.07,277.17 L636.73,277.09 L637.38,277 L638.03,276.91 L638.67,276.82 L639.3,276.73 L639.93,276.63 L640.55,276.53 L641.16,276.43 L641.76,276.32 L642.36,276.21 L642.95,276.09 L643.53,275.97 L644.1,275.84 L644.66,275.71 L645.22,275.57 L645.77,275.43 L646.31,275.28 L646.84,275.13 L647.37,274.97 L647.88,274.8 L648.39,274.62 L648.89,274.44 L649.38,274.24 L649.86,274.04 L650.33,273.83 L650.79,273.61 L651.25,273.38 L651.69,273.13 L652.13,272.87 L652.56,272.6 L652.97,272.32 L653.38,272.02 L653.78,271.71 L654.17,271.37 L654.55,271.02 L654.92,270.66 L655.29,270.27 L655.64,269.85 L655.98,269.42 L656.31,268.96 L656.64,268.48 L656.95,267.97 L657.25,267.43 L657.55,266.85 L657.83,266.25 L658.1,265.61 L658.37,264.94 L658.62,264.24 L658.86,263.49 L659.1,262.71 L659.32,261.88 L659.53,261.02 L659.74,260.12 L659.93,259.18 L660.11,258.21 L660.28,257.2 L660.45,256.17 L660.6,255.11 L660.74,254.03 L660.87,252.95 L660.99,251.87 L661.1,250.8 L661.2,249.77 L661.29,248.78 L661.37,247.84 L661.44,246.99 L661.49,246.23 L661.54,245.58 L661.58,245.06 L661.6,244.68 L661.62,244.44 L661.62,244.37" stroke="#98a684" stroke-width="1.1" fill="none"/>
<path d="M517.7,244.8 L517.71,245.1 L517.72,245.98 L517.75,247.41 L517.78,249.32 L517.83,251.65 L517.89,254.3 L517.96,257.19 L518.04,260.22 L518.12,263.28 L518.22,266.31 L518.33,269.22 L518.45,271.96 L518.58,274.49 L518.73,276.76 L518.88,278.78 L519.04,280.53 L519.21,282.03 L519.39,283.29 L519.59,284.33 L519.79,285.17 L520,285.84 L520.22,286.38 L520.46,286.79 L520.7,287.11 L520.95,287.35 L521.22,287.53 L521.49,287.66 L521.77,287.76 L522.07,287.83 L522.37,287.88 L522.68,287.92 L523.01,287.95 L523.34,287.97 L523.68,287.99 L524.03,288 L524.39,288.02 L524.76,288.03 L525.14,288.04 L525.53,288.05 L525.93,288.06 L526.34,288.07 L526.76,288.08 L527.18,288.1 L527.62,288.11 L528.06,288.12 L528.52,288.13 L528.98,288.14 L529.45,288.16 L529.93,288.17 L530.42,288.18 L530.92,288.2 L531.43,288.21 L531.94,288.22 L532.46,288.24 L532.99,288.25 L533.53,288.27 L534.08,288.28 L534.64,288.3 L535.2,288.31 L535.77,288.33 L536.35,288.34 L536.94,288.36 L537.54,288.37 L538.14,288.39 L538.75,288.41 L539.37,288.42 L539.99,288.44 L540.62,288.46 L541.26,288.48 L541.91,288.49 L542.56,288.51 L543.22,288.53 L543.89,288.55 L544.57,288.57 L545.25,288.59 L545.93,288.61 L546.63,288.63 L547.32,288.65 L548.03,288.67 L548.74,288.69 L549.46,288.71 L550.18,288.73 L550.91,288.75 L551.65,288.77 L552.39,288.79 L553.13,288.81 L553.88,288.84 L554.64,288.86 L555.4,288.88 L556.17,288.9 L556.94,288.93 L557.72,288.95 L558.5,288.97 L559.28,289 L560.07,289.02 L560.87,289.04 L561.66,289.07 L562.47,289.09 L563.27,289.12 L564.08,289.14 L564.9,289.17 L565.71,289.19 L566.54,289.22 L567.36,289.25 L568.19,289.27 L569.02,289.3 L569.85,289.33 L570.69,289.35 L571.53,289.38 L572.37,289.41 L573.21,289.44 L574.06,289.46 L574.91,289.49 L575.76,289.52 L576.61,289.55 L577.47,289.58 L578.33,289.61 L579.18,289.64 L580.04,289.67 L580.91,289.7 L581.77,289.73 L582.63,289.76 L583.5,289.79 L584.36,289.82 L585.23,289.86 L586.1,289.89 L586.96,289.92 L587.83,289.95 L588.7,289.99 L589.57,290.02 L590.44,290.06 L591.3,290.09 L592.17,290.13 L593.04,290.16 L593.91,290.2 L594.77,290.23 L595.64,290.27 L596.5,290.31 L597.37,290.34 L598.23,290.38 L599.09,290.42 L599.95,290.46 L600.81,290.5 L601.67,290.54 L602.52,290.58 L603.38,290.62 L604.23,290.66 L605.08,290.7 L605.92,290.74 L606.77,290.79 L607.61,290.83 L608.45,290.88 L609.28,290.92 L610.12,290.97 L610.95,291.01 L611.78,291.06 L612.6,291.11 L613.42,291.16 L614.24,291.21 L615.05,291.26 L615.86,291.31 L616.67,291.36 L617.47,291.42 L618.27,291.47 L619.06,291.53 L619.85,291.59 L620.64,291.64 L621.42,291.7 L622.2,291.76 L622.97,291.83 L623.73,291.89 L624.49,291.95 L625.25,292.02 L626,292.09 L626.75,292.16 L627.49,292.23 L628.22,292.3 L628.95,292.37 L629.68,292.45 L630.39,292.53 L631.11,292.61 L631.81,292.69 L632.51,292.78 L633.2,292.87 L633.89,292.96 L634.57,293.05 L635.24,293.15 L635.91,293.25 L636.57,293.35 L637.22,293.45 L637.87,293.56 L638.51,293.68 L639.14,293.79 L639.77,293.91 L640.39,294.04 L641,294.17 L641.6,294.3 L642.19,294.44 L642.78,294.59 L643.36,294.74 L643.93,294.9 L644.5,295.06 L645.05,295.23 L645.6,295.41 L646.14,295.6 L646.67,295.79 L647.2,295.99 L647.71,296.21 L648.22,296.43 L648.71,296.66 L649.2,296.91 L649.68,297.16 L650.15,297.43 L650.62,297.71 L651.07,298.01 L651.52,298.33 L651.95,298.66 L652.38,299 L652.8,299.37 L653.2,299.76 L653.6,300.17 L653.99,300.61 L654.37,301.07 L654.74,301.56 L655.1,302.07 L655.46,302.62 L655.8,303.21 L656.13,303.83 L656.45,304.49 L656.77,305.19 L657.07,305.93 L657.36,306.73 L657.64,307.58 L657.92,308.48 L658.18,309.44 L658.43,310.46 L658.68,311.55 L658.91,312.71 L659.13,313.94 L659.35,315.25 L659.55,316.63 L659.74,318.1 L659.92,319.64 L660.1,321.25 L660.26,322.95 L660.41,324.7 L660.55,326.52 L660.68,328.38 L660.8,330.27 L660.91,332.17 L661.01,334.05 L661.1,335.88 L661.18,337.63 L661.25,339.25 L661.3,340.72 L661.35,341.99 L661.39,343.02 L661.41,343.78 L661.43,344.24 L661.44,344.4" stroke="#98a684" stroke-width="1.1" fill="none"/>
<path d="M517.7,345.07 L517.71,344.56 L517.72,343.07 L517.75,340.65 L517.78,337.41 L517.83,333.51 L517.89,329.09 L517.95,324.34 L518.03,319.42 L518.12,314.5 L518.22,309.72 L518.32,305.2 L518.44,301.03 L518.57,297.27 L518.71,293.95 L518.86,291.08 L519.02,288.65 L519.19,286.64 L519.37,284.99 L519.56,283.67 L519.76,282.64 L519.97,281.84 L520.19,281.23 L520.42,280.78 L520.66,280.44 L520.9,280.2 L521.16,280.03 L521.43,279.9 L521.71,279.82 L522,279.76 L522.3,279.71 L522.61,279.68 L522.93,279.66 L523.25,279.65 L523.59,279.63 L523.94,279.62 L524.29,279.61 L524.66,279.6 L525.03,279.59 L525.41,279.59 L525.81,279.58 L526.21,279.57 L526.62,279.56 L527.04,279.55 L527.47,279.54 L527.91,279.53 L528.35,279.52 L528.81,279.51 L529.27,279.5 L529.75,279.49 L530.23,279.48 L530.72,279.47 L531.22,279.46 L531.72,279.45 L532.24,279.44 L532.76,279.43 L533.29,279.42 L533.83,279.4 L534.38,279.39 L534.94,279.38 L535.5,279.37 L536.07,279.35 L536.65,279.34 L537.24,279.33 L537.83,279.32 L538.43,279.3 L539.04,279.29 L539.65,279.27 L540.28,279.26 L540.91,279.25 L541.54,279.23 L542.19,279.22 L542.84,279.2 L543.49,279.19 L544.16,279.17 L544.83,279.16 L545.5,279.14 L546.19,279.12 L546.88,279.11 L547.57,279.09 L548.27,279.08 L548.98,279.06 L549.69,279.04 L550.41,279.03 L551.13,279.01 L551.86,278.99 L552.6,278.97 L553.34,278.96 L554.08,278.94 L554.83,278.92 L555.59,278.9 L556.35,278.88 L557.11,278.86 L557.88,278.84 L558.65,278.82 L559.43,278.81 L560.21,278.79 L561,278.77 L561.79,278.75 L562.58,278.73 L563.38,278.7 L564.18,278.68 L564.99,278.66 L565.8,278.64 L566.61,278.62 L567.42,278.6 L568.24,278.58 L569.06,278.55 L569.88,278.53 L570.71,278.51 L571.54,278.49 L572.37,278.46 L573.21,278.44 L574.04,278.42 L574.88,278.39 L575.72,278.37 L576.56,278.34 L577.41,278.32 L578.25,278.29 L579.1,278.27 L579.95,278.24 L580.8,278.22 L581.65,278.19 L582.5,278.16 L583.35,278.14 L584.21,278.11 L585.06,278.08 L585.91,278.06 L586.77,278.03 L587.62,278 L588.48,277.97 L589.33,277.94 L590.19,277.91 L591.04,277.88 L591.9,277.85 L592.75,277.82 L593.61,277.79 L594.46,277.76 L595.31,277.73 L596.16,277.7 L597.01,277.66 L597.86,277.63 L598.71,277.6 L599.55,277.56 L600.4,277.53 L601.24,277.49 L602.08,277.46 L602.92,277.42 L603.75,277.38 L604.59,277.35 L605.42,277.31 L606.25,277.27 L607.07,277.23 L607.9,277.19 L608.72,277.15 L609.54,277.11 L610.35,277.07 L611.16,277.03 L611.97,276.98 L612.78,276.94 L613.58,276.89 L614.38,276.85 L615.17,276.8 L615.96,276.75 L616.75,276.71 L617.53,276.66 L618.31,276.6 L619.08,276.55 L619.85,276.5 L620.61,276.45 L621.37,276.39 L622.13,276.33 L622.88,276.28 L623.62,276.22 L624.36,276.16 L625.1,276.09 L625.82,276.03 L626.55,275.97 L627.27,275.9 L627.98,275.83 L628.69,275.76 L629.39,275.69 L630.08,275.61 L630.77,275.54 L631.45,275.46 L632.13,275.37 L632.8,275.29 L633.46,275.2 L634.12,275.12 L634.77,275.02 L635.41,274.93 L636.05,274.83 L636.68,274.73 L637.3,274.63 L637.92,274.52 L638.53,274.41 L639.13,274.29 L639.72,274.17 L640.31,274.05 L640.89,273.92 L641.46,273.78 L642.02,273.64 L642.58,273.5 L643.12,273.35 L643.66,273.19 L644.19,273.03 L644.72,272.86 L645.23,272.68 L645.74,272.5 L646.24,272.31 L646.73,272.11 L647.21,271.9 L647.68,271.68 L648.15,271.45 L648.6,271.21 L649.05,270.96 L649.49,270.7 L649.92,270.43 L650.34,270.14 L650.75,269.84 L651.15,269.52 L651.54,269.19 L651.93,268.84 L652.3,268.48 L652.67,268.09 L653.02,267.69 L653.37,267.27 L653.71,266.82 L654.03,266.35 L654.35,265.86 L654.66,265.35 L654.96,264.8 L655.25,264.24 L655.52,263.64 L655.79,263.01 L656.05,262.36 L656.3,261.67 L656.54,260.96 L656.77,260.21 L656.99,259.44 L657.2,258.63 L657.4,257.8 L657.59,256.94 L657.77,256.05 L657.94,255.15 L658.1,254.23 L658.25,253.31 L658.39,252.37 L658.52,251.45 L658.63,250.53 L658.74,249.64 L658.84,248.78 L658.93,247.97 L659,247.21 L659.07,246.53 L659.13,245.92 L659.18,245.41 L659.21,245 L659.24,244.7 L659.25,244.52 L659.26,244.45" stroke="#5a9670" stroke-width="1.1" fill="none"/>
<path d="M517.7,244.8 L517.71,245.11 L517.72,246 L517.75,247.46 L517.78,249.41 L517.83,251.78 L517.89,254.5 L517.95,257.45 L518.03,260.55 L518.12,263.7 L518.22,266.81 L518.32,269.82 L518.44,272.65 L518.57,275.26 L518.71,277.63 L518.86,279.73 L519.02,281.57 L519.19,283.14 L519.37,284.47 L519.55,285.57 L519.75,286.46 L519.96,287.18 L520.18,287.75 L520.41,288.2 L520.65,288.54 L520.9,288.8 L521.16,289 L521.43,289.14 L521.71,289.25 L522,289.33 L522.29,289.39 L522.6,289.43 L522.92,289.46 L523.25,289.49 L523.58,289.51 L523.93,289.52 L524.28,289.54 L524.65,289.55 L525.02,289.56 L525.4,289.58 L525.8,289.59 L526.2,289.6 L526.61,289.61 L527.03,289.62 L527.46,289.63 L527.89,289.65 L528.34,289.66 L528.8,289.67 L529.26,289.68 L529.73,289.7 L530.21,289.71 L530.7,289.72 L531.2,289.74 L531.71,289.75 L532.22,289.77 L532.74,289.78 L533.27,289.8 L533.81,289.81 L534.36,289.83 L534.91,289.84 L535.48,289.86 L536.05,289.87 L536.62,289.89 L537.21,289.91 L537.8,289.92 L538.4,289.94 L539.01,289.96 L539.63,289.98 L540.25,290 L540.88,290.01 L541.51,290.03 L542.15,290.05 L542.8,290.07 L543.46,290.09 L544.12,290.11 L544.79,290.13 L545.47,290.15 L546.15,290.17 L546.84,290.19 L547.53,290.21 L548.23,290.23 L548.94,290.25 L549.65,290.27 L550.37,290.3 L551.09,290.32 L551.82,290.34 L552.55,290.36 L553.29,290.39 L554.03,290.41 L554.78,290.43 L555.54,290.46 L556.29,290.48 L557.06,290.5 L557.83,290.53 L558.6,290.55 L559.37,290.58 L560.16,290.6 L560.94,290.63 L561.73,290.65 L562.52,290.68 L563.32,290.71 L564.12,290.73 L564.92,290.76 L565.73,290.79 L566.54,290.81 L567.36,290.84 L568.17,290.87 L568.99,290.9 L569.81,290.92 L570.64,290.95 L571.47,290.98 L572.3,291.01 L573.13,291.04 L573.97,291.07 L574.8,291.1 L575.64,291.13 L576.48,291.16 L577.33,291.19 L578.17,291.23 L579.02,291.26 L579.86,291.29 L580.71,291.32 L581.56,291.35 L582.41,291.39 L583.26,291.42 L584.12,291.45 L584.97,291.49 L585.82,291.52 L586.68,291.56 L587.53,291.59 L588.38,291.63 L589.24,291.67 L590.09,291.7 L590.95,291.74 L591.8,291.78 L592.65,291.82 L593.5,291.85 L594.36,291.89 L595.21,291.93 L596.06,291.97 L596.9,292.01 L597.75,292.05 L598.6,292.1 L599.44,292.14 L600.28,292.18 L601.13,292.22 L601.96,292.27 L602.8,292.31 L603.64,292.36 L604.47,292.4 L605.3,292.45 L606.13,292.5 L606.95,292.55 L607.78,292.59 L608.6,292.64 L609.41,292.69 L610.23,292.75 L611.04,292.8 L611.84,292.85 L612.65,292.91 L613.45,292.96 L614.25,293.02 L615.04,293.07 L615.83,293.13 L616.61,293.19 L617.39,293.25 L618.17,293.32 L618.94,293.38 L619.71,293.44 L620.47,293.51 L621.23,293.58 L621.99,293.65 L622.74,293.72 L623.48,293.79 L624.22,293.86 L624.95,293.94 L625.68,294.02 L626.4,294.1 L627.12,294.18 L627.83,294.26 L628.54,294.35 L629.24,294.44 L629.93,294.53 L630.62,294.62 L631.3,294.72 L631.98,294.82 L632.65,294.92 L633.31,295.03 L633.96,295.14 L634.61,295.25 L635.26,295.37 L635.89,295.49 L636.52,295.61 L637.14,295.74 L637.76,295.87 L638.37,296.01 L638.97,296.15 L639.56,296.3 L640.14,296.46 L640.72,296.62 L641.29,296.78 L641.85,296.96 L642.41,297.14 L642.96,297.32 L643.49,297.52 L644.03,297.72 L644.55,297.94 L645.06,298.16 L645.57,298.39 L646.07,298.64 L646.56,298.89 L647.04,299.16 L647.51,299.44 L647.97,299.73 L648.43,300.04 L648.87,300.36 L649.31,300.7 L649.74,301.06 L650.16,301.43 L650.57,301.83 L650.97,302.24 L651.36,302.69 L651.75,303.15 L652.12,303.64 L652.49,304.16 L652.84,304.71 L653.19,305.29 L653.52,305.9 L653.85,306.56 L654.17,307.24 L654.48,307.98 L654.77,308.75 L655.06,309.57 L655.34,310.44 L655.61,311.36 L655.87,312.34 L656.12,313.37 L656.36,314.46 L656.59,315.62 L656.81,316.83 L657.01,318.12 L657.21,319.46 L657.4,320.87 L657.58,322.35 L657.75,323.88 L657.91,325.47 L658.06,327.1 L658.2,328.77 L658.33,330.46 L658.45,332.16 L658.55,333.85 L658.65,335.5 L658.74,337.1 L658.82,338.6 L658.88,339.99 L658.94,341.23 L658.99,342.3 L659.02,343.16 L659.05,343.79 L659.06,344.18 L659.07,344.31" stroke="#5a9670" stroke-width="1.1" fill="none"/>
<path d="M508.3,228.6 H678.7 V365.5 H508.3 Z" stroke="#505050" stroke-width="1.6" fill="none"/>
<path d="M517.7,365.5 v3 M536.64,365.5 v2 M555.58,365.5 v3 M574.51,365.5 v2 M593.45,365.5 v3 M612.39,365.5 v2 M631.33,365.5 v3 M650.26,365.5 v2 M669.2,365.5 v3 M508.3,355.2 h-3 M508.3,342.54 h-2 M508.3,329.88 h-3 M508.3,317.22 h-2 M508.3,304.56 h-3 M508.3,291.9 h-2 M508.3,279.24 h-3 M508.3,266.58 h-2 M508.3,253.92 h-3 M508.3,241.26 h-2 M508.3,228.6 h-3" stroke="#505050" stroke-width="1.2" fill="none"/>
<text x="504.5" y="359.2" font-size="11.5" font-weight="bold" text-anchor="end" fill="#1a1a1a" >2.0</text>
<text x="504.5" y="333.88" font-size="11.5" font-weight="bold" text-anchor="end" fill="#1a1a1a" >2.5</text>
<text x="504.5" y="308.56" font-size="11.5" font-weight="bold" text-anchor="end" fill="#1a1a1a" >3.0</text>
<text x="504.5" y="283.24" font-size="11.5" font-weight="bold" text-anchor="end" fill="#1a1a1a" >3.5</text>
<text x="504.5" y="257.92" font-size="11.5" font-weight="bold" text-anchor="end" fill="#1a1a1a" >4.0</text>
<text x="504.5" y="232.6" font-size="11.5" font-weight="bold" text-anchor="end" fill="#1a1a1a" >4.5</text>
<text x="517.7" y="379.5" font-size="11.5" font-weight="bold" text-anchor="middle" fill="#1a1a1a" >0</text>
<text x="555.58" y="379.5" font-size="11.5" font-weight="bold" text-anchor="middle" fill="#1a1a1a" >40</text>
<text x="593.45" y="379.5" font-size="11.5" font-weight="bold" text-anchor="middle" fill="#1a1a1a" >80</text>
<text x="631.33" y="379.5" font-size="11.5" font-weight="bold" text-anchor="middle" fill="#1a1a1a" >120</text>
<text x="669.2" y="379.5" font-size="11.5" font-weight="bold" text-anchor="middle" fill="#1a1a1a" >160</text>
<text x="591.5" y="398.7" font-size="11.4" font-weight="bold" text-anchor="middle" fill="#1a1a1a">Specific Capacity (mA h g<tspan dy="-4" font-size="7.5">-1</tspan><tspan dy="4">)</tspan></text>
<text transform="translate(479,295) rotate(-90)" font-size="11.4" font-weight="bold" text-anchor="middle" fill="#1a1a1a">Potential (V vs. Li<tspan dy="-4" font-size="7.5">+</tspan><tspan dy="4">/Li)</tspan></text>
<path d="M534.5,237.3 h23.3" stroke="#e4a0a0" stroke-width="1.5" fill="none"/>
<text x="561" y="241.1" font-size="10" font-weight="bold" text-anchor="start" fill="#1a1a1a" >5th</text>
<path d="M587.2,237.3 h23.3" stroke="#8a8ab8" stroke-width="1.5" fill="none"/>
<text x="613.7" y="241.1" font-size="10" font-weight="bold" text-anchor="start" fill="#1a1a1a" >10th</text>
<path d="M534.5,250.4 h23.3" stroke="#a4b094" stroke-width="1.5" fill="none"/>
<text x="561" y="254.2" font-size="10" font-weight="bold" text-anchor="start" fill="#1a1a1a" >15th</text>
<path d="M587.2,250.4 h23.3" stroke="#78a088" stroke-width="1.5" fill="none"/>
<text x="613.7" y="254.2" font-size="10" font-weight="bold" text-anchor="start" fill="#1a1a1a" >20th</text>
<path d="M534.5,262.5 h23.3" stroke="#eec09a" stroke-width="1.5" fill="none"/>
<text x="561" y="266.3" font-size="10" font-weight="bold" text-anchor="start" fill="#1a1a1a" >25th</text>
<text x="523" y="350.7" font-size="10.7" font-weight="normal" text-anchor="start" fill="#e8b07e" letter-spacing="0.3" stroke="#e8b07e" stroke-width="0.35">2 C</text>
<text x="545.5" y="350.7" font-size="10.7" font-weight="normal" text-anchor="start" fill="#6fa583" letter-spacing="0.3" stroke="#6fa583" stroke-width="0.35">1 C</text>
<text x="567" y="350.7" font-size="10.7" font-weight="normal" text-anchor="start" fill="#a3a583" letter-spacing="0.3" stroke="#a3a583" stroke-width="0.35">0.5 C</text>
<text x="597" y="350.7" font-size="10.7" font-weight="normal" text-anchor="start" fill="#7a7a9e" letter-spacing="0.3" stroke="#7a7a9e" stroke-width="0.35">0.2 C</text>
<text x="627.5" y="350.7" font-size="10.7" font-weight="normal" text-anchor="start" fill="#d9978a" letter-spacing="0.3" stroke="#d9978a" stroke-width="0.35">0.1 C</text>
<path d="M524,356.3 H652" stroke="#2a2a2a" stroke-width="1.5" fill="none"/>
<path d="M517.8,356.3 L525.5,353.6 L524.2,356.3 L525.5,359 Z" fill="#2a2a2a"/>
<g transform="rotate(-2.5 102 48)">
<path d="M67.5,46.3 A34.8,10.6 0 0 0 137.1,46.3 V51.9 A34.8,10.6 0 0 1 67.5,51.9 Z" fill="url(#gCapSide)"/>
<ellipse cx="102.3" cy="46.3" rx="34.8" ry="10.6" fill="url(#gCapTop)"/>
</g>
<g transform="rotate(-2 101 83)">
<path d="M72.6,82.2 A28.8,7 0 0 0 130.2,82.2 V84.8 A28.8,7 0 0 1 72.6,84.8 Z" fill="url(#gLSNside)"/>
<ellipse cx="101.4" cy="82.2" rx="28.8" ry="7" fill="url(#gLSN)"/>
</g>
<path d="M71.4,104 A29.4,8.6 0 0 0 130.2,104 V106.8 A29.4,8.6 0 0 1 71.4,106.8 Z" fill="#c2691d"/>
<ellipse cx="100.8" cy="104" rx="29.4" ry="8.6" fill="url(#gLLZ)"/>
<path d="M77.2,128.5 A24.2,6.4 0 0 0 125.6,128.5 V130.3 A24.2,6.4 0 0 1 77.2,130.3 Z" fill="#d9c3aa"/>
<ellipse cx="101.4" cy="128.5" rx="24.2" ry="6.4" fill="#eedccb"/>
<path d="M76.3,147 A25,6 0 0 0 126.3,147 V149.2 A25,6 0 0 1 76.3,149.2 Z" fill="#2a2a2a"/>
<ellipse cx="101.3" cy="147" rx="25" ry="6" fill="#3e3e3e"/>
<path d="M66.4,172.3 A34.5,10 0 0 1 135.3,172.3 V184.2 A34.5,9.8 0 0 1 66.4,184.2 Z" fill="url(#gBotSide)"/>
<ellipse cx="100.9" cy="172.3" rx="34.5" ry="10" fill="#555"/>
<ellipse cx="102" cy="178" rx="30.5" ry="7.3" fill="#8e8e8e"/>
<path d="M80,184 A30.5,7.3 0 0 0 132.3,178" stroke="#b4b4b4" stroke-width="1.1" fill="none"/>
<text x="144.5" y="86.8" font-size="11" font-weight="bold" text-anchor="start" fill="#1a1a1a" >Li-Si-N</text>
<text x="144.5" y="110.8" font-size="11" font-weight="bold" text-anchor="start" fill="#1a1a1a" >LLZTO</text>
<text x="144.5" y="132.4" font-size="11" font-weight="bold" text-anchor="start" fill="#1a1a1a" >PEO</text>
<text x="144.5" y="151.3" font-size="11" font-weight="bold" fill="#1a1a1a">LiFePO<tspan dy="3" font-size="7.5">4</tspan></text>
<path d="M34.3,291.5 L133.4,345.1 L133.4,351.6 L34.3,298 Z" fill="#5c5c5c" />
<path d="M133.4,345.1 L187.6,312.6 L187.6,319.1 L133.4,351.6 Z" fill="#a4a4a4" />
<path d="M34.3,291.5 L91.5,258.6 L187.6,312.6 L133.4,345.1 Z" fill="#8d8d8d" />
<path d="M87.2,307.2 L116.5,287.2 L150.8,305.7 L116.7,324.2 Z" fill="#f2c9a0" />
<path d="M116.7,324.2 L150.8,305.7 L174.4,318.6 L137.5,339.3 Z" fill="#1c1c1c" />
<path d="M62.5,295.9 L81.7,303.4 L81.7,310.9 L62.5,303.4 Z" fill="#77713f" />
<path d="M81.7,303.4 L116.8,284.5 L116.8,290.5 L81.7,310.9 Z" fill="#968d4e" />
<path d="M62.5,295.9 L105.1,271.7 L112.6,266.7 L130.1,276.7 L123.5,280.9 L116.8,278.4 L116.8,284.5 L81.7,303.4 Z" fill="url(#gBarTop)" />
<path d="M116.8,278.4 L123.5,280.9 L123.5,287.6 L116.8,285.2 Z" fill="#68622f" />
<path d="M123.5,280.9 L130.1,276.7 L130.1,282.6 L123.5,287.6 Z" fill="#8c8446" />
<path d="M104.3,271.7 L107.6,275 L108.6,270.6 Z" fill="#5a5632" />
<text transform="translate(120.3,309.8) rotate(-28.5)" font-size="10.8" font-weight="bold" text-anchor="middle" fill="#111">PEO</text>
<text transform="translate(143,326.3) rotate(-28.5)" font-size="10.2" font-weight="bold" text-anchor="middle" fill="#f4f4f4">LiFePO<tspan dy="2.5" font-size="6.5">4</tspan></text>
<path d="M539,386 a6.5,5.2 0 1 0 -11.5,2.8 l-1,2.8 l3,-1.4 a7,5.2 0 0 0 3.8,0.7" fill="none" stroke="#c4c4c4" stroke-width="1"/>
<ellipse cx="541" cy="389.6" rx="5.2" ry="4.2" fill="#fff" fill-opacity="0.6" stroke="#c4c4c4" stroke-width="1"/>
<path d="M556.5,383.82 L564.5,383.82 M560.5,379.5 L560.5,397.86 M560.5,385.98 L556.5,393.54 M560.5,385.98 L564.5,391.38 M564.5,384.9 L571.5,384.9 M568.5,379.5 L568.5,396.78 L566.5,395.7 M568.5,387.06 L564.5,394.62" stroke="#505050" stroke-width="2.7" fill="none" opacity="0.68" stroke-linecap="square"/>
<path d="M573.5,380.58 L574.5,382.74 M579.5,380.58 L578.5,382.74 M572.5,384.9 L580.5,384.9 M576.5,379.5 L576.5,397.86 M576.5,385.98 L572.5,392.46 M576.5,385.98 L580.5,390.3 M582.5,381.66 L583.5,383.82 M582.5,385.98 L583.5,388.14 M580.5,390.3 L587.5,389.22 M585.5,379.5 L585.5,397.86" stroke="#505050" stroke-width="2.7" fill="none" opacity="0.68" stroke-linecap="square"/>
<path d="M589.5,380.58 L595.5,379.5 M588.5,384.9 L596.5,384.9 M592.5,380.58 L592.5,397.86 M592.5,385.98 L588.5,392.46 M592.5,385.98 L596.5,390.3 M598.5,381.66 L599.5,383.82 M598.5,385.98 L599.5,388.14 M596.5,390.3 L603.5,389.22 M601.5,379.5 L601.5,397.86" stroke="#505050" stroke-width="2.7" fill="none" opacity="0.68" stroke-linecap="square"/>
<path d="M607.5,379.5 L608.5,382.74 M611.5,379.5 L611.5,382.74 M615.5,379.5 L614.5,382.74 M605.5,385.98 L605.5,383.82 L618.5,383.82 L618.5,385.98 M608.5,387.06 L615.5,387.06 L611.5,390.3 L611.5,396.78 L609.5,395.7 M604.5,391.38 L619.5,391.38" stroke="#505050" stroke-width="2.7" fill="none" opacity="0.68" stroke-linecap="square"/>
<path d="M624.5,379.5 L623.5,388.14 L634.5,388.14 L633.5,395.7 L630.5,395.7 M624.5,382.74 L632.5,382.74 M620.5,391.38 L635.5,391.38" stroke="#505050" stroke-width="2.7" fill="none" opacity="0.68" stroke-linecap="square"/>
<path d="M637.5,381.66 L650.5,381.66 M644,381.66 L644,395.7 M636.5,395.7 L651.5,395.7" stroke="#505050" stroke-width="2.7" fill="none" opacity="0.68" stroke-linecap="square"/>
<path d="M653.5,380.58 L659.5,379.5 M652.5,384.9 L660.5,384.9 M656.5,380.58 L656.5,397.86 M656.5,385.98 L652.5,392.46 M656.5,385.98 L660.5,390.3 M661.5,380.58 L667.5,380.58 L667.5,385.98 L661.5,385.98 Z M661.5,389.22 L667.5,389.22 M664.5,389.22 L664.5,396.78 M661.5,392.46 L667.5,392.46 M660.5,396.78 L667.5,396.78" stroke="#505050" stroke-width="2.7" fill="none" opacity="0.68" stroke-linecap="square"/>
<path d="M556.5,383.82 L564.5,383.82 M560.5,379.5 L560.5,397.86 M560.5,385.98 L556.5,393.54 M560.5,385.98 L564.5,391.38 M564.5,384.9 L571.5,384.9 M568.5,379.5 L568.5,396.78 L566.5,395.7 M568.5,387.06 L564.5,394.62" stroke="#ffffff" stroke-width="1.7" fill="none" stroke-linecap="square"/>
<path d="M573.5,380.58 L574.5,382.74 M579.5,380.58 L578.5,382.74 M572.5,384.9 L580.5,384.9 M576.5,379.5 L576.5,397.86 M576.5,385.98 L572.5,392.46 M576.5,385.98 L580.5,390.3 M582.5,381.66 L583.5,383.82 M582.5,385.98 L583.5,388.14 M580.5,390.3 L587.5,389.22 M585.5,379.5 L585.5,397.86" stroke="#ffffff" stroke-width="1.7" fill="none" stroke-linecap="square"/>
<path d="M589.5,380.58 L595.5,379.5 M588.5,384.9 L596.5,384.9 M592.5,380.58 L592.5,397.86 M592.5,385.98 L588.5,392.46 M592.5,385.98 L596.5,390.3 M598.5,381.66 L599.5,383.82 M598.5,385.98 L599.5,388.14 M596.5,390.3 L603.5,389.22 M601.5,379.5 L601.5,397.86" stroke="#ffffff" stroke-width="1.7" fill="none" stroke-linecap="square"/>
<path d="M607.5,379.5 L608.5,382.74 M611.5,379.5 L611.5,382.74 M615.5,379.5 L614.5,382.74 M605.5,385.98 L605.5,383.82 L618.5,383.82 L618.5,385.98 M608.5,387.06 L615.5,387.06 L611.5,390.3 L611.5,396.78 L609.5,395.7 M604.5,391.38 L619.5,391.38" stroke="#ffffff" stroke-width="1.7" fill="none" stroke-linecap="square"/>
<path d="M624.5,379.5 L623.5,388.14 L634.5,388.14 L633.5,395.7 L630.5,395.7 M624.5,382.74 L632.5,382.74 M620.5,391.38 L635.5,391.38" stroke="#ffffff" stroke-width="1.7" fill="none" stroke-linecap="square"/>
<path d="M637.5,381.66 L650.5,381.66 M644,381.66 L644,395.7 M636.5,395.7 L651.5,395.7" stroke="#ffffff" stroke-width="1.7" fill="none" stroke-linecap="square"/>
<path d="M653.5,380.58 L659.5,379.5 M652.5,384.9 L660.5,384.9 M656.5,380.58 L656.5,397.86 M656.5,385.98 L652.5,392.46 M656.5,385.98 L660.5,390.3 M661.5,380.58 L667.5,380.58 L667.5,385.98 L661.5,385.98 Z M661.5,389.22 L667.5,389.22 M664.5,389.22 L664.5,396.78 M661.5,392.46 L667.5,392.46 M660.5,396.78 L667.5,396.78" stroke="#ffffff" stroke-width="1.7" fill="none" stroke-linecap="square"/>
</svg>
</body></html>
